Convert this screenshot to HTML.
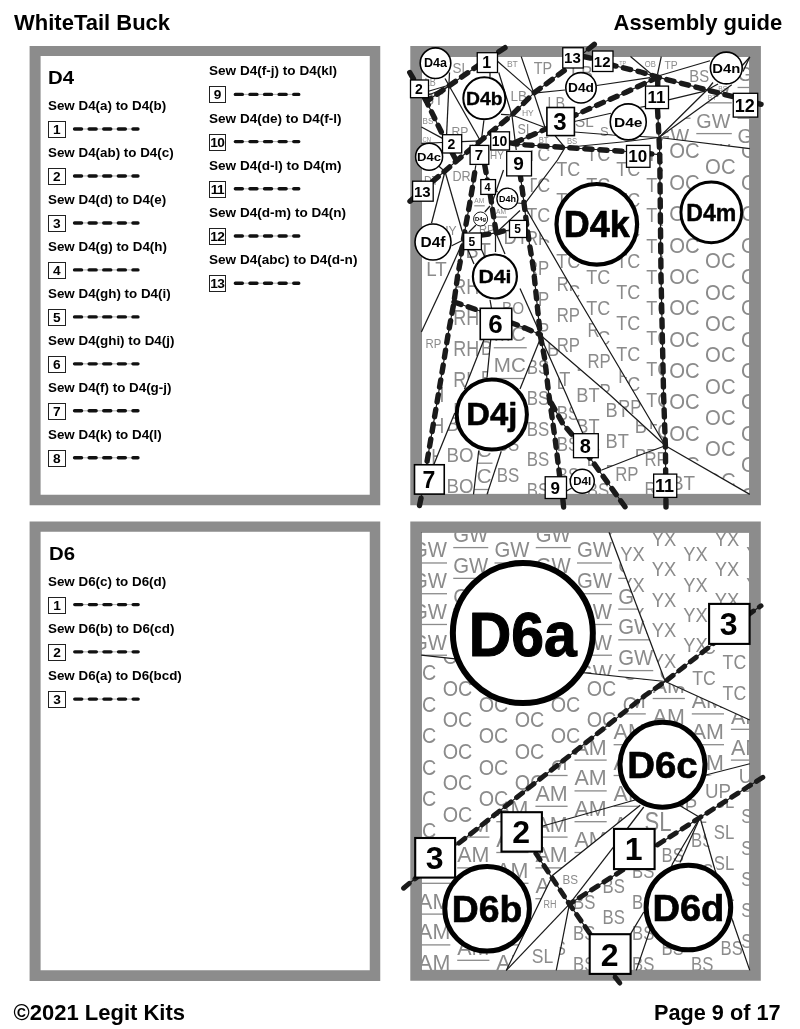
<!DOCTYPE html>
<html><head><meta charset="utf-8"><title>WhiteTail Buck - Assembly guide</title>
<style>
html,body{margin:0;padding:0;background:#fff;}
body{width:800px;height:1029px;position:relative;overflow:hidden;will-change:transform;opacity:0.9999;font-family:"Liberation Sans",sans-serif;color:#000;}
.hd{position:absolute;font-weight:bold;font-size:22px;line-height:24px;white-space:nowrap;}
.panel{position:absolute;box-sizing:border-box;border:10.5px solid #8c8c8c;background:#fff;}
.ttl{position:absolute;font-weight:bold;font-size:18px;line-height:20px;white-space:nowrap;transform:scaleX(1.13);transform-origin:0 0;}
.sew{position:absolute;font-weight:bold;font-size:12px;line-height:14px;white-space:nowrap;transform:scaleX(1.115);transform-origin:0 0;}
.nb{position:absolute;box-sizing:border-box;width:17.4px;height:17.2px;border:1px solid #222;font-weight:bold;font-size:13.7px;line-height:15.4px;text-align:center;letter-spacing:-0.6px;text-indent:-0.8px;}
svg{position:absolute;left:0;top:0;}
svg text{font-family:"Liberation Sans",sans-serif;}
</style></head><body>

<div class="hd" style="left:14px;top:11.3px;">WhiteTail Buck</div>
<div class="hd" style="left:613.5px;top:11.3px;">Assembly guide</div>
<div class="hd" style="left:13.5px;top:1000.7px;">©2021 Legit Kits</div>
<div class="hd" style="left:654px;top:1000.7px;font-size:21.7px;">Page 9 of 17</div>
<svg width="800" height="1029" viewBox="0 0 800 1029"><path fill-rule="evenodd" fill="#8c8c8c" d="M29.6 45.9H380.25V505.25H29.6ZM40.6 56H369.75V494.75H40.6Z"/><path fill-rule="evenodd" fill="#8c8c8c" d="M410.3 46H760.9V505.25H410.3ZM421.4 56.2H749.8V494.5H421.4Z"/><path fill-rule="evenodd" fill="#8c8c8c" d="M29.6 521.5H380.25V981H29.6ZM40.6 531.8H369.75V970.3H40.6Z"/><path fill-rule="evenodd" fill="#8c8c8c" d="M410.3 521.4H760.8V980.8H410.3ZM421.2 532H749.8V970.5H421.2Z"/></svg>
<div class="ttl" style="left:48.3px;top:67.8px;">D4</div>
<div class="ttl" style="left:48.5px;top:543.9px;">D6</div>
<div class="sew" style="left:48.2px;top:98.9px;">Sew D4(a) to D4(b)</div>
<div class="nb" style="left:48.2px;top:120.9px;">1</div>
<div class="sew" style="left:48.2px;top:145.87px;">Sew D4(ab) to D4(c)</div>
<div class="nb" style="left:48.2px;top:167.87px;">2</div>
<div class="sew" style="left:48.2px;top:192.84px;">Sew D4(d) to D4(e)</div>
<div class="nb" style="left:48.2px;top:214.84px;">3</div>
<div class="sew" style="left:48.2px;top:239.81px;">Sew D4(g) to D4(h)</div>
<div class="nb" style="left:48.2px;top:261.81px;">4</div>
<div class="sew" style="left:48.2px;top:286.78px;">Sew D4(gh) to D4(i)</div>
<div class="nb" style="left:48.2px;top:308.78px;">5</div>
<div class="sew" style="left:48.2px;top:333.75px;">Sew D4(ghi) to D4(j)</div>
<div class="nb" style="left:48.2px;top:355.75px;">6</div>
<div class="sew" style="left:48.2px;top:380.72px;">Sew D4(f) to D4(g-j)</div>
<div class="nb" style="left:48.2px;top:402.72px;">7</div>
<div class="sew" style="left:48.2px;top:427.69px;">Sew D4(k) to D4(l)</div>
<div class="nb" style="left:48.2px;top:449.69px;">8</div>
<div class="sew" style="left:209px;top:64.3px;transform:scaleX(1.13);">Sew D4(f-j) to D4(kl)</div>
<div class="nb" style="left:209px;top:86.3px;">9</div>
<div class="sew" style="left:209px;top:111.5px;transform:scaleX(1.13);">Sew D4(de) to D4(f-l)</div>
<div class="nb" style="left:209px;top:133.5px;">10</div>
<div class="sew" style="left:209px;top:158.7px;transform:scaleX(1.13);">Sew D4(d-l) to D4(m)</div>
<div class="nb" style="left:209px;top:180.7px;">11</div>
<div class="sew" style="left:209px;top:205.9px;transform:scaleX(1.13);">Sew D4(d-m) to D4(n)</div>
<div class="nb" style="left:209px;top:227.9px;">12</div>
<div class="sew" style="left:209px;top:253.1px;transform:scaleX(1.13);">Sew D4(abc) to D4(d-n)</div>
<div class="nb" style="left:209px;top:275.1px;">13</div>
<div class="sew" style="left:48.4px;top:574.5px;">Sew D6(c) to D6(d)</div>
<div class="nb" style="left:48.4px;top:596.5px;">1</div>
<div class="sew" style="left:48.4px;top:621.75px;">Sew D6(b) to D6(cd)</div>
<div class="nb" style="left:48.4px;top:643.75px;">2</div>
<div class="sew" style="left:48.4px;top:669px;">Sew D6(a) to D6(bcd)</div>
<div class="nb" style="left:48.4px;top:691px;">3</div>
<svg width="800" height="1029" viewBox="0 0 800 1029"><line x1="74.55" y1="129" x2="137.55" y2="129" stroke="#999" stroke-width="0.8"/><line x1="74.55" y1="129" x2="137.95" y2="129" stroke="#111" stroke-width="3.4" stroke-linecap="round" stroke-dasharray="7 7.6"/><line x1="74.55" y1="175.97" x2="137.55" y2="175.97" stroke="#999" stroke-width="0.8"/><line x1="74.55" y1="175.97" x2="137.95" y2="175.97" stroke="#111" stroke-width="3.4" stroke-linecap="round" stroke-dasharray="7 7.6"/><line x1="74.55" y1="222.94" x2="137.55" y2="222.94" stroke="#999" stroke-width="0.8"/><line x1="74.55" y1="222.94" x2="137.95" y2="222.94" stroke="#111" stroke-width="3.4" stroke-linecap="round" stroke-dasharray="7 7.6"/><line x1="74.55" y1="269.91" x2="137.55" y2="269.91" stroke="#999" stroke-width="0.8"/><line x1="74.55" y1="269.91" x2="137.95" y2="269.91" stroke="#111" stroke-width="3.4" stroke-linecap="round" stroke-dasharray="7 7.6"/><line x1="74.55" y1="316.88" x2="137.55" y2="316.88" stroke="#999" stroke-width="0.8"/><line x1="74.55" y1="316.88" x2="137.95" y2="316.88" stroke="#111" stroke-width="3.4" stroke-linecap="round" stroke-dasharray="7 7.6"/><line x1="74.55" y1="363.85" x2="137.55" y2="363.85" stroke="#999" stroke-width="0.8"/><line x1="74.55" y1="363.85" x2="137.95" y2="363.85" stroke="#111" stroke-width="3.4" stroke-linecap="round" stroke-dasharray="7 7.6"/><line x1="74.55" y1="410.82" x2="137.55" y2="410.82" stroke="#999" stroke-width="0.8"/><line x1="74.55" y1="410.82" x2="137.95" y2="410.82" stroke="#111" stroke-width="3.4" stroke-linecap="round" stroke-dasharray="7 7.6"/><line x1="74.55" y1="457.79" x2="137.55" y2="457.79" stroke="#999" stroke-width="0.8"/><line x1="74.55" y1="457.79" x2="137.95" y2="457.79" stroke="#111" stroke-width="3.4" stroke-linecap="round" stroke-dasharray="7 7.6"/><line x1="235.35" y1="94.4" x2="298.35" y2="94.4" stroke="#999" stroke-width="0.8"/><line x1="235.35" y1="94.4" x2="298.75" y2="94.4" stroke="#111" stroke-width="3.4" stroke-linecap="round" stroke-dasharray="7 7.6"/><line x1="235.35" y1="141.6" x2="298.35" y2="141.6" stroke="#999" stroke-width="0.8"/><line x1="235.35" y1="141.6" x2="298.75" y2="141.6" stroke="#111" stroke-width="3.4" stroke-linecap="round" stroke-dasharray="7 7.6"/><line x1="235.35" y1="188.8" x2="298.35" y2="188.8" stroke="#999" stroke-width="0.8"/><line x1="235.35" y1="188.8" x2="298.75" y2="188.8" stroke="#111" stroke-width="3.4" stroke-linecap="round" stroke-dasharray="7 7.6"/><line x1="235.35" y1="236" x2="298.35" y2="236" stroke="#999" stroke-width="0.8"/><line x1="235.35" y1="236" x2="298.75" y2="236" stroke="#111" stroke-width="3.4" stroke-linecap="round" stroke-dasharray="7 7.6"/><line x1="235.35" y1="283.2" x2="298.35" y2="283.2" stroke="#999" stroke-width="0.8"/><line x1="235.35" y1="283.2" x2="298.75" y2="283.2" stroke="#111" stroke-width="3.4" stroke-linecap="round" stroke-dasharray="7 7.6"/><line x1="74.75" y1="604.6" x2="137.75" y2="604.6" stroke="#999" stroke-width="0.8"/><line x1="74.75" y1="604.6" x2="138.15" y2="604.6" stroke="#111" stroke-width="3.4" stroke-linecap="round" stroke-dasharray="7 7.6"/><line x1="74.75" y1="651.85" x2="137.75" y2="651.85" stroke="#999" stroke-width="0.8"/><line x1="74.75" y1="651.85" x2="138.15" y2="651.85" stroke="#111" stroke-width="3.4" stroke-linecap="round" stroke-dasharray="7 7.6"/><line x1="74.75" y1="699.1" x2="137.75" y2="699.1" stroke="#999" stroke-width="0.8"/><line x1="74.75" y1="699.1" x2="138.15" y2="699.1" stroke="#111" stroke-width="3.4" stroke-linecap="round" stroke-dasharray="7 7.6"/></svg>
<svg width="800" height="1029" viewBox="0 0 800 1029"><rect x="421.7" y="56.5" width="327.8" height="437.7" fill="none" stroke="#555" stroke-width="0.6"/><rect x="421.5" y="532.3" width="328" height="437.9" fill="none" stroke="#555" stroke-width="0.6"/><clipPath id="c1"><polygon points="531.5,150 565,148.5 626.5,152.5 659.6,155.2 661,275 665.4,445.75 564.25,275 524.5,205 531.5,176"/></clipPath>
<g clip-path="url(#c1)" fill="#8b8b8b" font-size="20.5">
<text x="496.3" y="176.2" textLength="24" lengthAdjust="spacingAndGlyphs">TC</text>
<text x="496.3" y="206.95" textLength="24" lengthAdjust="spacingAndGlyphs">TC</text>
<text x="496.3" y="237.7" textLength="24" lengthAdjust="spacingAndGlyphs">TC</text>
<text x="496.3" y="268.45" textLength="24" lengthAdjust="spacingAndGlyphs">TC</text>
<text x="496.3" y="299.2" textLength="24" lengthAdjust="spacingAndGlyphs">TC</text>
<text x="496.3" y="329.95" textLength="24" lengthAdjust="spacingAndGlyphs">TC</text>
<text x="496.3" y="360.7" textLength="24" lengthAdjust="spacingAndGlyphs">TC</text>
<text x="496.3" y="391.45" textLength="24" lengthAdjust="spacingAndGlyphs">TC</text>
<text x="496.3" y="422.2" textLength="24" lengthAdjust="spacingAndGlyphs">TC</text>
<text x="496.3" y="452.95" textLength="24" lengthAdjust="spacingAndGlyphs">TC</text>
<text x="556.3" y="176.2" textLength="24" lengthAdjust="spacingAndGlyphs">TC</text>
<text x="556.3" y="206.95" textLength="24" lengthAdjust="spacingAndGlyphs">TC</text>
<text x="556.3" y="237.7" textLength="24" lengthAdjust="spacingAndGlyphs">TC</text>
<text x="556.3" y="268.45" textLength="24" lengthAdjust="spacingAndGlyphs">TC</text>
<text x="556.3" y="299.2" textLength="24" lengthAdjust="spacingAndGlyphs">TC</text>
<text x="556.3" y="329.95" textLength="24" lengthAdjust="spacingAndGlyphs">TC</text>
<text x="556.3" y="360.7" textLength="24" lengthAdjust="spacingAndGlyphs">TC</text>
<text x="556.3" y="391.45" textLength="24" lengthAdjust="spacingAndGlyphs">TC</text>
<text x="556.3" y="422.2" textLength="24" lengthAdjust="spacingAndGlyphs">TC</text>
<text x="556.3" y="452.95" textLength="24" lengthAdjust="spacingAndGlyphs">TC</text>
<text x="616.3" y="176.2" textLength="24" lengthAdjust="spacingAndGlyphs">TC</text>
<text x="616.3" y="206.95" textLength="24" lengthAdjust="spacingAndGlyphs">TC</text>
<text x="616.3" y="237.7" textLength="24" lengthAdjust="spacingAndGlyphs">TC</text>
<text x="616.3" y="268.45" textLength="24" lengthAdjust="spacingAndGlyphs">TC</text>
<text x="616.3" y="299.2" textLength="24" lengthAdjust="spacingAndGlyphs">TC</text>
<text x="616.3" y="329.95" textLength="24" lengthAdjust="spacingAndGlyphs">TC</text>
<text x="616.3" y="360.7" textLength="24" lengthAdjust="spacingAndGlyphs">TC</text>
<text x="616.3" y="391.45" textLength="24" lengthAdjust="spacingAndGlyphs">TC</text>
<text x="616.3" y="422.2" textLength="24" lengthAdjust="spacingAndGlyphs">TC</text>
<text x="616.3" y="452.95" textLength="24" lengthAdjust="spacingAndGlyphs">TC</text>
<text x="526.3" y="160.82" textLength="24" lengthAdjust="spacingAndGlyphs">TC</text>
<text x="526.3" y="191.57" textLength="24" lengthAdjust="spacingAndGlyphs">TC</text>
<text x="526.3" y="222.32" textLength="24" lengthAdjust="spacingAndGlyphs">TC</text>
<text x="526.3" y="253.07" textLength="24" lengthAdjust="spacingAndGlyphs">TC</text>
<text x="526.3" y="283.82" textLength="24" lengthAdjust="spacingAndGlyphs">TC</text>
<text x="526.3" y="314.57" textLength="24" lengthAdjust="spacingAndGlyphs">TC</text>
<text x="526.3" y="345.32" textLength="24" lengthAdjust="spacingAndGlyphs">TC</text>
<text x="526.3" y="376.07" textLength="24" lengthAdjust="spacingAndGlyphs">TC</text>
<text x="526.3" y="406.82" textLength="24" lengthAdjust="spacingAndGlyphs">TC</text>
<text x="526.3" y="437.57" textLength="24" lengthAdjust="spacingAndGlyphs">TC</text>
<text x="586.3" y="160.82" textLength="24" lengthAdjust="spacingAndGlyphs">TC</text>
<text x="586.3" y="191.57" textLength="24" lengthAdjust="spacingAndGlyphs">TC</text>
<text x="586.3" y="222.32" textLength="24" lengthAdjust="spacingAndGlyphs">TC</text>
<text x="586.3" y="253.07" textLength="24" lengthAdjust="spacingAndGlyphs">TC</text>
<text x="586.3" y="283.82" textLength="24" lengthAdjust="spacingAndGlyphs">TC</text>
<text x="586.3" y="314.57" textLength="24" lengthAdjust="spacingAndGlyphs">TC</text>
<text x="586.3" y="345.32" textLength="24" lengthAdjust="spacingAndGlyphs">TC</text>
<text x="586.3" y="376.07" textLength="24" lengthAdjust="spacingAndGlyphs">TC</text>
<text x="586.3" y="406.82" textLength="24" lengthAdjust="spacingAndGlyphs">TC</text>
<text x="586.3" y="437.57" textLength="24" lengthAdjust="spacingAndGlyphs">TC</text>
<text x="646.3" y="160.82" textLength="24" lengthAdjust="spacingAndGlyphs">TC</text>
<text x="646.3" y="191.57" textLength="24" lengthAdjust="spacingAndGlyphs">TC</text>
<text x="646.3" y="222.32" textLength="24" lengthAdjust="spacingAndGlyphs">TC</text>
<text x="646.3" y="253.07" textLength="24" lengthAdjust="spacingAndGlyphs">TC</text>
<text x="646.3" y="283.82" textLength="24" lengthAdjust="spacingAndGlyphs">TC</text>
<text x="646.3" y="314.57" textLength="24" lengthAdjust="spacingAndGlyphs">TC</text>
<text x="646.3" y="345.32" textLength="24" lengthAdjust="spacingAndGlyphs">TC</text>
<text x="646.3" y="376.07" textLength="24" lengthAdjust="spacingAndGlyphs">TC</text>
<text x="646.3" y="406.82" textLength="24" lengthAdjust="spacingAndGlyphs">TC</text>
<text x="646.3" y="437.57" textLength="24" lengthAdjust="spacingAndGlyphs">TC</text>
</g>
<clipPath id="c2"><polygon points="659,137.5 749.8,149 749.8,494.4 665.4,445.75 661,275"/></clipPath>
<g clip-path="url(#c2)" fill="#8b8b8b" font-size="21.5">
<text x="669.2" y="158.45" textLength="30.5" lengthAdjust="spacingAndGlyphs">OC</text>
<text x="669.2" y="189.8" textLength="30.5" lengthAdjust="spacingAndGlyphs">OC</text>
<text x="669.2" y="221.15" textLength="30.5" lengthAdjust="spacingAndGlyphs">OC</text>
<text x="669.2" y="252.5" textLength="30.5" lengthAdjust="spacingAndGlyphs">OC</text>
<text x="669.2" y="283.85" textLength="30.5" lengthAdjust="spacingAndGlyphs">OC</text>
<text x="669.2" y="315.2" textLength="30.5" lengthAdjust="spacingAndGlyphs">OC</text>
<text x="669.2" y="346.55" textLength="30.5" lengthAdjust="spacingAndGlyphs">OC</text>
<text x="669.2" y="377.9" textLength="30.5" lengthAdjust="spacingAndGlyphs">OC</text>
<text x="669.2" y="409.25" textLength="30.5" lengthAdjust="spacingAndGlyphs">OC</text>
<text x="669.2" y="440.6" textLength="30.5" lengthAdjust="spacingAndGlyphs">OC</text>
<text x="669.2" y="471.95" textLength="30.5" lengthAdjust="spacingAndGlyphs">OC</text>
<text x="669.2" y="503.3" textLength="30.5" lengthAdjust="spacingAndGlyphs">OC</text>
<text x="740.95" y="158.45" textLength="30.5" lengthAdjust="spacingAndGlyphs">OC</text>
<text x="740.95" y="189.8" textLength="30.5" lengthAdjust="spacingAndGlyphs">OC</text>
<text x="740.95" y="221.15" textLength="30.5" lengthAdjust="spacingAndGlyphs">OC</text>
<text x="740.95" y="252.5" textLength="30.5" lengthAdjust="spacingAndGlyphs">OC</text>
<text x="740.95" y="283.85" textLength="30.5" lengthAdjust="spacingAndGlyphs">OC</text>
<text x="740.95" y="315.2" textLength="30.5" lengthAdjust="spacingAndGlyphs">OC</text>
<text x="740.95" y="346.55" textLength="30.5" lengthAdjust="spacingAndGlyphs">OC</text>
<text x="740.95" y="377.9" textLength="30.5" lengthAdjust="spacingAndGlyphs">OC</text>
<text x="740.95" y="409.25" textLength="30.5" lengthAdjust="spacingAndGlyphs">OC</text>
<text x="740.95" y="440.6" textLength="30.5" lengthAdjust="spacingAndGlyphs">OC</text>
<text x="740.95" y="471.95" textLength="30.5" lengthAdjust="spacingAndGlyphs">OC</text>
<text x="740.95" y="503.3" textLength="30.5" lengthAdjust="spacingAndGlyphs">OC</text>
<text x="633.33" y="142.78" textLength="30.5" lengthAdjust="spacingAndGlyphs">OC</text>
<text x="633.33" y="174.13" textLength="30.5" lengthAdjust="spacingAndGlyphs">OC</text>
<text x="633.33" y="205.48" textLength="30.5" lengthAdjust="spacingAndGlyphs">OC</text>
<text x="633.33" y="236.83" textLength="30.5" lengthAdjust="spacingAndGlyphs">OC</text>
<text x="633.33" y="268.18" textLength="30.5" lengthAdjust="spacingAndGlyphs">OC</text>
<text x="633.33" y="299.53" textLength="30.5" lengthAdjust="spacingAndGlyphs">OC</text>
<text x="633.33" y="330.88" textLength="30.5" lengthAdjust="spacingAndGlyphs">OC</text>
<text x="633.33" y="362.23" textLength="30.5" lengthAdjust="spacingAndGlyphs">OC</text>
<text x="633.33" y="393.58" textLength="30.5" lengthAdjust="spacingAndGlyphs">OC</text>
<text x="633.33" y="424.93" textLength="30.5" lengthAdjust="spacingAndGlyphs">OC</text>
<text x="633.33" y="456.28" textLength="30.5" lengthAdjust="spacingAndGlyphs">OC</text>
<text x="633.33" y="487.63" textLength="30.5" lengthAdjust="spacingAndGlyphs">OC</text>
<text x="705.08" y="142.78" textLength="30.5" lengthAdjust="spacingAndGlyphs">OC</text>
<text x="705.08" y="174.13" textLength="30.5" lengthAdjust="spacingAndGlyphs">OC</text>
<text x="705.08" y="205.48" textLength="30.5" lengthAdjust="spacingAndGlyphs">OC</text>
<text x="705.08" y="236.83" textLength="30.5" lengthAdjust="spacingAndGlyphs">OC</text>
<text x="705.08" y="268.18" textLength="30.5" lengthAdjust="spacingAndGlyphs">OC</text>
<text x="705.08" y="299.53" textLength="30.5" lengthAdjust="spacingAndGlyphs">OC</text>
<text x="705.08" y="330.88" textLength="30.5" lengthAdjust="spacingAndGlyphs">OC</text>
<text x="705.08" y="362.23" textLength="30.5" lengthAdjust="spacingAndGlyphs">OC</text>
<text x="705.08" y="393.58" textLength="30.5" lengthAdjust="spacingAndGlyphs">OC</text>
<text x="705.08" y="424.93" textLength="30.5" lengthAdjust="spacingAndGlyphs">OC</text>
<text x="705.08" y="456.28" textLength="30.5" lengthAdjust="spacingAndGlyphs">OC</text>
<text x="705.08" y="487.63" textLength="30.5" lengthAdjust="spacingAndGlyphs">OC</text>
</g>
<clipPath id="c3"><polygon points="659,137.5 731.75,84.75 741,72 749.8,57 749.8,149"/></clipPath>
<g clip-path="url(#c3)" fill="#8b8b8b" font-size="21">
<text x="696.3" y="66.1" textLength="34" lengthAdjust="spacingAndGlyphs">GW</text>
<rect x="696.3" y="71.45" width="35.5" height="1.3"/>
<text x="696.3" y="96.85" textLength="34" lengthAdjust="spacingAndGlyphs">GW</text>
<rect x="696.3" y="102.2" width="35.5" height="1.3"/>
<text x="696.3" y="127.6" textLength="34" lengthAdjust="spacingAndGlyphs">GW</text>
<rect x="696.3" y="132.95" width="35.5" height="1.3"/>
<text x="696.3" y="158.35" textLength="34" lengthAdjust="spacingAndGlyphs">GW</text>
<rect x="696.3" y="163.7" width="35.5" height="1.3"/>
<text x="655.05" y="81.47" textLength="34" lengthAdjust="spacingAndGlyphs">GW</text>
<rect x="655.05" y="86.82" width="35.5" height="1.3"/>
<text x="655.05" y="112.22" textLength="34" lengthAdjust="spacingAndGlyphs">GW</text>
<rect x="655.05" y="117.57" width="35.5" height="1.3"/>
<text x="655.05" y="142.97" textLength="34" lengthAdjust="spacingAndGlyphs">GW</text>
<rect x="655.05" y="148.32" width="35.5" height="1.3"/>
<text x="737.55" y="81.47" textLength="34" lengthAdjust="spacingAndGlyphs">GW</text>
<rect x="737.55" y="86.82" width="35.5" height="1.3"/>
<text x="737.55" y="112.22" textLength="34" lengthAdjust="spacingAndGlyphs">GW</text>
<rect x="737.55" y="117.57" width="35.5" height="1.3"/>
<text x="737.55" y="142.97" textLength="34" lengthAdjust="spacingAndGlyphs">GW</text>
<rect x="737.55" y="148.32" width="35.5" height="1.3"/>
</g>
<clipPath id="c4"><polygon points="524.5,205 564.25,275 635.5,395 665.4,445.75 610,395 540.25,335 533.5,269 529,243.5"/></clipPath>
<g clip-path="url(#c4)" fill="#8b8b8b" font-size="21">
<text x="495.25" y="229.35" textLength="23.3" lengthAdjust="spacingAndGlyphs">RP</text>
<text x="495.25" y="260.1" textLength="23.3" lengthAdjust="spacingAndGlyphs">RP</text>
<text x="495.25" y="290.85" textLength="23.3" lengthAdjust="spacingAndGlyphs">RP</text>
<text x="495.25" y="321.6" textLength="23.3" lengthAdjust="spacingAndGlyphs">RP</text>
<text x="495.25" y="352.35" textLength="23.3" lengthAdjust="spacingAndGlyphs">RP</text>
<text x="495.25" y="383.1" textLength="23.3" lengthAdjust="spacingAndGlyphs">RP</text>
<text x="495.25" y="413.85" textLength="23.3" lengthAdjust="spacingAndGlyphs">RP</text>
<text x="495.25" y="444.6" textLength="23.3" lengthAdjust="spacingAndGlyphs">RP</text>
<text x="556.75" y="229.35" textLength="23.3" lengthAdjust="spacingAndGlyphs">RP</text>
<text x="556.75" y="260.1" textLength="23.3" lengthAdjust="spacingAndGlyphs">RP</text>
<text x="556.75" y="290.85" textLength="23.3" lengthAdjust="spacingAndGlyphs">RP</text>
<text x="556.75" y="321.6" textLength="23.3" lengthAdjust="spacingAndGlyphs">RP</text>
<text x="556.75" y="352.35" textLength="23.3" lengthAdjust="spacingAndGlyphs">RP</text>
<text x="556.75" y="383.1" textLength="23.3" lengthAdjust="spacingAndGlyphs">RP</text>
<text x="556.75" y="413.85" textLength="23.3" lengthAdjust="spacingAndGlyphs">RP</text>
<text x="556.75" y="444.6" textLength="23.3" lengthAdjust="spacingAndGlyphs">RP</text>
<text x="618.25" y="229.35" textLength="23.3" lengthAdjust="spacingAndGlyphs">RP</text>
<text x="618.25" y="260.1" textLength="23.3" lengthAdjust="spacingAndGlyphs">RP</text>
<text x="618.25" y="290.85" textLength="23.3" lengthAdjust="spacingAndGlyphs">RP</text>
<text x="618.25" y="321.6" textLength="23.3" lengthAdjust="spacingAndGlyphs">RP</text>
<text x="618.25" y="352.35" textLength="23.3" lengthAdjust="spacingAndGlyphs">RP</text>
<text x="618.25" y="383.1" textLength="23.3" lengthAdjust="spacingAndGlyphs">RP</text>
<text x="618.25" y="413.85" textLength="23.3" lengthAdjust="spacingAndGlyphs">RP</text>
<text x="618.25" y="444.6" textLength="23.3" lengthAdjust="spacingAndGlyphs">RP</text>
<text x="526" y="213.98" textLength="23.3" lengthAdjust="spacingAndGlyphs">RP</text>
<text x="526" y="244.73" textLength="23.3" lengthAdjust="spacingAndGlyphs">RP</text>
<text x="526" y="275.48" textLength="23.3" lengthAdjust="spacingAndGlyphs">RP</text>
<text x="526" y="306.23" textLength="23.3" lengthAdjust="spacingAndGlyphs">RP</text>
<text x="526" y="336.98" textLength="23.3" lengthAdjust="spacingAndGlyphs">RP</text>
<text x="526" y="367.73" textLength="23.3" lengthAdjust="spacingAndGlyphs">RP</text>
<text x="526" y="398.48" textLength="23.3" lengthAdjust="spacingAndGlyphs">RP</text>
<text x="526" y="429.23" textLength="23.3" lengthAdjust="spacingAndGlyphs">RP</text>
<text x="526" y="459.98" textLength="23.3" lengthAdjust="spacingAndGlyphs">RP</text>
<text x="587.5" y="213.98" textLength="23.3" lengthAdjust="spacingAndGlyphs">RP</text>
<text x="587.5" y="244.73" textLength="23.3" lengthAdjust="spacingAndGlyphs">RP</text>
<text x="587.5" y="275.48" textLength="23.3" lengthAdjust="spacingAndGlyphs">RP</text>
<text x="587.5" y="306.23" textLength="23.3" lengthAdjust="spacingAndGlyphs">RP</text>
<text x="587.5" y="336.98" textLength="23.3" lengthAdjust="spacingAndGlyphs">RP</text>
<text x="587.5" y="367.73" textLength="23.3" lengthAdjust="spacingAndGlyphs">RP</text>
<text x="587.5" y="398.48" textLength="23.3" lengthAdjust="spacingAndGlyphs">RP</text>
<text x="587.5" y="429.23" textLength="23.3" lengthAdjust="spacingAndGlyphs">RP</text>
<text x="587.5" y="459.98" textLength="23.3" lengthAdjust="spacingAndGlyphs">RP</text>
<text x="649" y="213.98" textLength="23.3" lengthAdjust="spacingAndGlyphs">RP</text>
<text x="649" y="244.73" textLength="23.3" lengthAdjust="spacingAndGlyphs">RP</text>
<text x="649" y="275.48" textLength="23.3" lengthAdjust="spacingAndGlyphs">RP</text>
<text x="649" y="306.23" textLength="23.3" lengthAdjust="spacingAndGlyphs">RP</text>
<text x="649" y="336.98" textLength="23.3" lengthAdjust="spacingAndGlyphs">RP</text>
<text x="649" y="367.73" textLength="23.3" lengthAdjust="spacingAndGlyphs">RP</text>
<text x="649" y="398.48" textLength="23.3" lengthAdjust="spacingAndGlyphs">RP</text>
<text x="649" y="429.23" textLength="23.3" lengthAdjust="spacingAndGlyphs">RP</text>
<text x="649" y="459.98" textLength="23.3" lengthAdjust="spacingAndGlyphs">RP</text>
</g>
<clipPath id="c5"><polygon points="542.5,341 540.25,335 665.4,445.75 601.75,470 598.3,457.7 583,433.7 566.5,395"/></clipPath>
<g clip-path="url(#c5)" fill="#8b8b8b" font-size="20.5">
<text x="517.75" y="340.35" textLength="23.3" lengthAdjust="spacingAndGlyphs">BT</text>
<text x="517.75" y="371.1" textLength="23.3" lengthAdjust="spacingAndGlyphs">BT</text>
<text x="517.75" y="401.85" textLength="23.3" lengthAdjust="spacingAndGlyphs">BT</text>
<text x="517.75" y="432.6" textLength="23.3" lengthAdjust="spacingAndGlyphs">BT</text>
<text x="517.75" y="463.35" textLength="23.3" lengthAdjust="spacingAndGlyphs">BT</text>
<text x="576.25" y="340.35" textLength="23.3" lengthAdjust="spacingAndGlyphs">BT</text>
<text x="576.25" y="371.1" textLength="23.3" lengthAdjust="spacingAndGlyphs">BT</text>
<text x="576.25" y="401.85" textLength="23.3" lengthAdjust="spacingAndGlyphs">BT</text>
<text x="576.25" y="432.6" textLength="23.3" lengthAdjust="spacingAndGlyphs">BT</text>
<text x="576.25" y="463.35" textLength="23.3" lengthAdjust="spacingAndGlyphs">BT</text>
<text x="634.75" y="340.35" textLength="23.3" lengthAdjust="spacingAndGlyphs">BT</text>
<text x="634.75" y="371.1" textLength="23.3" lengthAdjust="spacingAndGlyphs">BT</text>
<text x="634.75" y="401.85" textLength="23.3" lengthAdjust="spacingAndGlyphs">BT</text>
<text x="634.75" y="432.6" textLength="23.3" lengthAdjust="spacingAndGlyphs">BT</text>
<text x="634.75" y="463.35" textLength="23.3" lengthAdjust="spacingAndGlyphs">BT</text>
<text x="547" y="355.73" textLength="23.3" lengthAdjust="spacingAndGlyphs">BT</text>
<text x="547" y="386.48" textLength="23.3" lengthAdjust="spacingAndGlyphs">BT</text>
<text x="547" y="417.23" textLength="23.3" lengthAdjust="spacingAndGlyphs">BT</text>
<text x="547" y="447.98" textLength="23.3" lengthAdjust="spacingAndGlyphs">BT</text>
<text x="547" y="478.73" textLength="23.3" lengthAdjust="spacingAndGlyphs">BT</text>
<text x="605.5" y="355.73" textLength="23.3" lengthAdjust="spacingAndGlyphs">BT</text>
<text x="605.5" y="386.48" textLength="23.3" lengthAdjust="spacingAndGlyphs">BT</text>
<text x="605.5" y="417.23" textLength="23.3" lengthAdjust="spacingAndGlyphs">BT</text>
<text x="605.5" y="447.98" textLength="23.3" lengthAdjust="spacingAndGlyphs">BT</text>
<text x="605.5" y="478.73" textLength="23.3" lengthAdjust="spacingAndGlyphs">BT</text>
<text x="664" y="355.73" textLength="23.3" lengthAdjust="spacingAndGlyphs">BT</text>
<text x="664" y="386.48" textLength="23.3" lengthAdjust="spacingAndGlyphs">BT</text>
<text x="664" y="417.23" textLength="23.3" lengthAdjust="spacingAndGlyphs">BT</text>
<text x="664" y="447.98" textLength="23.3" lengthAdjust="spacingAndGlyphs">BT</text>
<text x="664" y="478.73" textLength="23.3" lengthAdjust="spacingAndGlyphs">BT</text>
</g>
<clipPath id="c6"><polygon points="540,339.5 566.5,395 583,433.7 590.5,458.75 616,494.4 487,494.4 501.25,451.25 520,389"/></clipPath>
<g clip-path="url(#c6)" fill="#8b8b8b" font-size="21">
<text x="466.75" y="343.35" textLength="22.5" lengthAdjust="spacingAndGlyphs">BS</text>
<text x="466.75" y="374.1" textLength="22.5" lengthAdjust="spacingAndGlyphs">BS</text>
<text x="466.75" y="404.85" textLength="22.5" lengthAdjust="spacingAndGlyphs">BS</text>
<text x="466.75" y="435.6" textLength="22.5" lengthAdjust="spacingAndGlyphs">BS</text>
<text x="466.75" y="466.35" textLength="22.5" lengthAdjust="spacingAndGlyphs">BS</text>
<text x="466.75" y="497.1" textLength="22.5" lengthAdjust="spacingAndGlyphs">BS</text>
<text x="526.75" y="343.35" textLength="22.5" lengthAdjust="spacingAndGlyphs">BS</text>
<text x="526.75" y="374.1" textLength="22.5" lengthAdjust="spacingAndGlyphs">BS</text>
<text x="526.75" y="404.85" textLength="22.5" lengthAdjust="spacingAndGlyphs">BS</text>
<text x="526.75" y="435.6" textLength="22.5" lengthAdjust="spacingAndGlyphs">BS</text>
<text x="526.75" y="466.35" textLength="22.5" lengthAdjust="spacingAndGlyphs">BS</text>
<text x="526.75" y="497.1" textLength="22.5" lengthAdjust="spacingAndGlyphs">BS</text>
<text x="586.75" y="343.35" textLength="22.5" lengthAdjust="spacingAndGlyphs">BS</text>
<text x="586.75" y="374.1" textLength="22.5" lengthAdjust="spacingAndGlyphs">BS</text>
<text x="586.75" y="404.85" textLength="22.5" lengthAdjust="spacingAndGlyphs">BS</text>
<text x="586.75" y="435.6" textLength="22.5" lengthAdjust="spacingAndGlyphs">BS</text>
<text x="586.75" y="466.35" textLength="22.5" lengthAdjust="spacingAndGlyphs">BS</text>
<text x="586.75" y="497.1" textLength="22.5" lengthAdjust="spacingAndGlyphs">BS</text>
<text x="496.75" y="358.73" textLength="22.5" lengthAdjust="spacingAndGlyphs">BS</text>
<text x="496.75" y="389.48" textLength="22.5" lengthAdjust="spacingAndGlyphs">BS</text>
<text x="496.75" y="420.23" textLength="22.5" lengthAdjust="spacingAndGlyphs">BS</text>
<text x="496.75" y="450.98" textLength="22.5" lengthAdjust="spacingAndGlyphs">BS</text>
<text x="496.75" y="481.73" textLength="22.5" lengthAdjust="spacingAndGlyphs">BS</text>
<text x="496.75" y="512.48" textLength="22.5" lengthAdjust="spacingAndGlyphs">BS</text>
<text x="556.75" y="358.73" textLength="22.5" lengthAdjust="spacingAndGlyphs">BS</text>
<text x="556.75" y="389.48" textLength="22.5" lengthAdjust="spacingAndGlyphs">BS</text>
<text x="556.75" y="420.23" textLength="22.5" lengthAdjust="spacingAndGlyphs">BS</text>
<text x="556.75" y="450.98" textLength="22.5" lengthAdjust="spacingAndGlyphs">BS</text>
<text x="556.75" y="481.73" textLength="22.5" lengthAdjust="spacingAndGlyphs">BS</text>
<text x="556.75" y="512.48" textLength="22.5" lengthAdjust="spacingAndGlyphs">BS</text>
<text x="616.75" y="358.73" textLength="22.5" lengthAdjust="spacingAndGlyphs">BS</text>
<text x="616.75" y="389.48" textLength="22.5" lengthAdjust="spacingAndGlyphs">BS</text>
<text x="616.75" y="420.23" textLength="22.5" lengthAdjust="spacingAndGlyphs">BS</text>
<text x="616.75" y="450.98" textLength="22.5" lengthAdjust="spacingAndGlyphs">BS</text>
<text x="616.75" y="481.73" textLength="22.5" lengthAdjust="spacingAndGlyphs">BS</text>
<text x="616.75" y="512.48" textLength="22.5" lengthAdjust="spacingAndGlyphs">BS</text>
</g>
<clipPath id="c7"><polygon points="601.75,470 665.4,445.75 666,494.4 616,494.4 596,462"/></clipPath>
<g clip-path="url(#c7)" fill="#8b8b8b" font-size="21">
<text x="615.25" y="451.4" textLength="23.3" lengthAdjust="spacingAndGlyphs">RP</text>
<text x="615.25" y="481.4" textLength="23.3" lengthAdjust="spacingAndGlyphs">RP</text>
<text x="615.25" y="511.4" textLength="23.3" lengthAdjust="spacingAndGlyphs">RP</text>
<text x="586" y="466.4" textLength="23.3" lengthAdjust="spacingAndGlyphs">RP</text>
<text x="586" y="496.4" textLength="23.3" lengthAdjust="spacingAndGlyphs">RP</text>
<text x="644.5" y="466.4" textLength="23.3" lengthAdjust="spacingAndGlyphs">RP</text>
<text x="644.5" y="496.4" textLength="23.3" lengthAdjust="spacingAndGlyphs">RP</text>
</g>
<clipPath id="c8"><polygon points="457.75,275 473,275 482,300 484,339.5 464.5,389 454.75,413 433.75,464.75 427,461.75 438.25,395 448,335 454,302"/></clipPath>
<g clip-path="url(#c8)" fill="#8b8b8b" font-size="22">
<text x="453.25" y="293.6" textLength="26" lengthAdjust="spacingAndGlyphs">RH</text>
<text x="453.25" y="324.6" textLength="26" lengthAdjust="spacingAndGlyphs">RH</text>
<text x="453.25" y="355.6" textLength="26" lengthAdjust="spacingAndGlyphs">RH</text>
<text x="453.25" y="386.6" textLength="26" lengthAdjust="spacingAndGlyphs">RH</text>
<text x="453.25" y="417.6" textLength="26" lengthAdjust="spacingAndGlyphs">RH</text>
<text x="453.25" y="448.6" textLength="26" lengthAdjust="spacingAndGlyphs">RH</text>
<text x="453.25" y="479.6" textLength="26" lengthAdjust="spacingAndGlyphs">RH</text>
<text x="418.25" y="278.1" textLength="26" lengthAdjust="spacingAndGlyphs">RH</text>
<text x="418.25" y="309.1" textLength="26" lengthAdjust="spacingAndGlyphs">RH</text>
<text x="418.25" y="340.1" textLength="26" lengthAdjust="spacingAndGlyphs">RH</text>
<text x="418.25" y="371.1" textLength="26" lengthAdjust="spacingAndGlyphs">RH</text>
<text x="418.25" y="402.1" textLength="26" lengthAdjust="spacingAndGlyphs">RH</text>
<text x="418.25" y="433.1" textLength="26" lengthAdjust="spacingAndGlyphs">RH</text>
<text x="418.25" y="464.1" textLength="26" lengthAdjust="spacingAndGlyphs">RH</text>
</g>
<clipPath id="c9"><polygon points="433.75,464.75 454.75,413 478.75,450.5 473.5,494.4 421.4,494.4 421.4,464"/></clipPath>
<g clip-path="url(#c9)" fill="#8b8b8b" font-size="20">
<text x="446.5" y="431.05" textLength="27" lengthAdjust="spacingAndGlyphs">BO</text>
<text x="446.5" y="461.8" textLength="27" lengthAdjust="spacingAndGlyphs">BO</text>
<text x="446.5" y="492.55" textLength="27" lengthAdjust="spacingAndGlyphs">BO</text>
</g>
<clipPath id="c10"><polygon points="484,339.5 490.75,339.5 487,377.75 476,380 464.5,389"/></clipPath>
<g clip-path="url(#c10)" fill="#8b8b8b" font-size="21">
<text x="481" y="355.2" textLength="22.5" lengthAdjust="spacingAndGlyphs">BS</text>
<text x="481" y="385.2" textLength="22.5" lengthAdjust="spacingAndGlyphs">BS</text>
</g>
<clipPath id="c11"><polygon points="490.75,339.5 511.75,339.5 511.75,323 540.25,334.5 520,389 487,389"/></clipPath>
<g clip-path="url(#c11)" fill="#8b8b8b" font-size="21">
<text x="493.75" y="341.05" textLength="32" lengthAdjust="spacingAndGlyphs">MC</text>
<rect x="493.75" y="347.1" width="33" height="1.3"/>
<text x="493.75" y="371.8" textLength="32" lengthAdjust="spacingAndGlyphs">MC</text>
<rect x="493.75" y="377.85" width="33" height="1.3"/>
<text x="493.75" y="402.55" textLength="32" lengthAdjust="spacingAndGlyphs">MC</text>
<rect x="493.75" y="408.6" width="33" height="1.3"/>
</g>
<clipPath id="c12"><polygon points="478.75,450.5 501.25,451.25 487,494.4 473.5,494.4"/></clipPath>
<g clip-path="url(#c12)" fill="#8b8b8b" font-size="21">
<text x="459.5" y="456.5" textLength="32" lengthAdjust="spacingAndGlyphs">MC</text>
<rect x="459.5" y="462.55" width="33" height="1.3"/>
<text x="459.5" y="482.8" textLength="32" lengthAdjust="spacingAndGlyphs">MC</text>
<rect x="459.5" y="488.85" width="33" height="1.3"/>
<text x="459.5" y="509.1" textLength="32" lengthAdjust="spacingAndGlyphs">MC</text>
<rect x="459.5" y="515.15" width="33" height="1.3"/>
</g>
<text x="452.5" y="72.5" font-size="15" fill="#8b8b8b" textLength="16.51" lengthAdjust="spacingAndGlyphs">SL</text>
<text x="424" y="104.75" font-size="17" fill="#8b8b8b" textLength="19.55" lengthAdjust="spacingAndGlyphs">BT</text>
<text x="422.5" y="124.3" font-size="9" fill="#8b8b8b" textLength="10.81" lengthAdjust="spacingAndGlyphs">BS</text>
<text x="422.5" y="141.5" font-size="6.5" fill="#8b8b8b" textLength="8.45" lengthAdjust="spacingAndGlyphs">CN</text>
<text x="424.8" y="86.3" font-size="10" fill="#8b8b8b" textLength="11.01" lengthAdjust="spacingAndGlyphs">LB</text>
<text x="506.9" y="66.9" font-size="9.5" fill="#8b8b8b" textLength="10.93" lengthAdjust="spacingAndGlyphs">BT</text>
<text x="533.75" y="74.4" font-size="16" fill="#8b8b8b" textLength="18.4" lengthAdjust="spacingAndGlyphs">TP</text>
<text x="510.6" y="101.25" font-size="15" fill="#8b8b8b" textLength="16.51" lengthAdjust="spacingAndGlyphs">LB</text>
<text x="521.9" y="115.6" font-size="9.5" fill="#8b8b8b" textLength="11.88" lengthAdjust="spacingAndGlyphs">HY</text>
<text x="517.5" y="134.4" font-size="14" fill="#8b8b8b" textLength="15.41" lengthAdjust="spacingAndGlyphs">SL</text>
<text x="538.75" y="143" font-size="8.5" fill="#8b8b8b" textLength="9.78" lengthAdjust="spacingAndGlyphs">BT</text>
<text x="566.9" y="143.75" font-size="8.5" fill="#8b8b8b" textLength="10.21" lengthAdjust="spacingAndGlyphs">BS</text>
<text x="547.5" y="109" font-size="16" fill="#8b8b8b" textLength="17.61" lengthAdjust="spacingAndGlyphs">LB</text>
<text x="490" y="158.75" font-size="11" fill="#8b8b8b" textLength="13.75" lengthAdjust="spacingAndGlyphs">HY</text>
<text x="571" y="80" font-size="20" fill="#8b8b8b" textLength="22.01" lengthAdjust="spacingAndGlyphs">LB</text>
<text x="619.25" y="64.5" font-size="6" fill="#8b8b8b" textLength="6.9" lengthAdjust="spacingAndGlyphs">TP</text>
<text x="644.75" y="66.75" font-size="8.5" fill="#8b8b8b" textLength="11.05" lengthAdjust="spacingAndGlyphs">OB</text>
<text x="664.5" y="69" font-size="11.5" fill="#8b8b8b" textLength="13.23" lengthAdjust="spacingAndGlyphs">TP</text>
<text x="689.3" y="81.75" font-size="16.5" fill="#8b8b8b" textLength="19.81" lengthAdjust="spacingAndGlyphs">BS</text>
<text x="718.25" y="90.75" font-size="7.5" fill="#8b8b8b" textLength="9" lengthAdjust="spacingAndGlyphs">BS</text>
<text x="707.75" y="99.75" font-size="7.5" fill="#8b8b8b" textLength="8.63" lengthAdjust="spacingAndGlyphs">BT</text>
<text x="452.5" y="180.5" font-size="14" fill="#8b8b8b" textLength="18.19" lengthAdjust="spacingAndGlyphs">DR</text>
<text x="424" y="185" font-size="12" fill="#8b8b8b" textLength="14.4" lengthAdjust="spacingAndGlyphs">DT</text>
<text x="439.8" y="234.5" font-size="13.5" fill="#8b8b8b" textLength="16.88" lengthAdjust="spacingAndGlyphs">HY</text>
<text x="479" y="233.5" font-size="12.5" fill="#8b8b8b" textLength="15.63" lengthAdjust="spacingAndGlyphs">RP</text>
<text x="503.5" y="243.5" font-size="20.5" fill="#8b8b8b" textLength="24.59" lengthAdjust="spacingAndGlyphs">DT</text>
<text x="426.25" y="275.5" font-size="19.5" fill="#8b8b8b" textLength="20.48" lengthAdjust="spacingAndGlyphs">LT</text>
<text x="465.5" y="257.5" font-size="22" fill="#8b8b8b" textLength="25.3" lengthAdjust="spacingAndGlyphs">BT</text>
<text x="425.5" y="347.75" font-size="13.5" fill="#8b8b8b" textLength="15.8" lengthAdjust="spacingAndGlyphs">RP</text>
<text x="502" y="314" font-size="17" fill="#8b8b8b" textLength="22.11" lengthAdjust="spacingAndGlyphs">BO</text>
<clipPath id="c13"><polygon points="440,120 475,120 475,134.6 440,134.6"/></clipPath><text x="451.6" y="136.2" font-size="13.5" fill="#8b8b8b" clip-path="url(#c13)" textLength="16.88" lengthAdjust="spacingAndGlyphs">RP</text>
<clipPath id="c14"><polygon points="665.4,445.75 749.8,494.4 666,494.4"/></clipPath><text x="671" y="489.5" font-size="21" fill="#8b8b8b" clip-path="url(#c14)" textLength="24.15" lengthAdjust="spacingAndGlyphs">BT</text>
<clipPath id="c15"><polygon points="574.4,122 611,113.7 612.5,135 574.4,132"/></clipPath><text x="575" y="127" font-size="17" fill="#8b8b8b" clip-path="url(#c15)" textLength="18.71" lengthAdjust="spacingAndGlyphs">SL</text>
<text x="600" y="135.6" font-size="13" fill="#8b8b8b">S</text>
<text x="474.25" y="203" font-size="7.3" fill="#8b8b8b" textLength="9.86" lengthAdjust="spacingAndGlyphs">AM</text><rect x="474.25" y="205.2" width="10.5" height="1.2" fill="#8b8b8b"/>
<text x="496" y="214.25" font-size="7.3" fill="#8b8b8b" textLength="9.86" lengthAdjust="spacingAndGlyphs">AM</text><rect x="496" y="216.45" width="11" height="1.2" fill="#8b8b8b"/>
<polyline points="445,78.5 479.9,140" fill="none" stroke="#1a1a1a" stroke-width="1.25"/>
<polyline points="449.5,72.5 446.6,134.7" fill="none" stroke="#1a1a1a" stroke-width="1.25"/>
<polyline points="428.5,91.25 451,84.5" fill="none" stroke="#1a1a1a" stroke-width="1.25"/>
<polyline points="428.5,95 447,87.5" fill="none" stroke="#1a1a1a" stroke-width="1.25"/>
<polyline points="497.5,61.25 533.75,93.1" fill="none" stroke="#1a1a1a" stroke-width="1.25"/>
<polyline points="498.75,72.5 511.9,115 516.25,150" fill="none" stroke="#1a1a1a" stroke-width="1.25"/>
<polyline points="490,72.5 490,77" fill="none" stroke="#1a1a1a" stroke-width="1.25"/>
<polyline points="483.9,120.3 481.5,139.25" fill="none" stroke="#1a1a1a" stroke-width="1.25"/>
<polyline points="421.4,127 442.5,138.4" fill="none" stroke="#1a1a1a" stroke-width="1.25"/>
<polyline points="421.4,143.3 442.5,142.5" fill="none" stroke="#1a1a1a" stroke-width="1.25"/>
<polyline points="461.7,141.7 479.9,140.9" fill="none" stroke="#1a1a1a" stroke-width="1.25"/>
<polyline points="521.25,56.6 533.75,93.1 545,127.5" fill="none" stroke="#1a1a1a" stroke-width="1.25"/>
<polyline points="533.75,93.1 565,90" fill="none" stroke="#1a1a1a" stroke-width="1.25"/>
<polyline points="511.9,115 545,127.5" fill="none" stroke="#1a1a1a" stroke-width="1.25"/>
<polyline points="501,114.4 511.9,115" fill="none" stroke="#1a1a1a" stroke-width="1.25"/>
<polyline points="596.75,85.5 650,77.7" fill="none" stroke="#1a1a1a" stroke-width="1.25"/>
<polyline points="574.4,121.5 611,113.25" fill="none" stroke="#1a1a1a" stroke-width="1.25"/>
<polyline points="574.4,132 612.5,135 659,137.5 749.8,148.7" fill="none" stroke="#1a1a1a" stroke-width="1.25"/>
<polyline points="555,135.6 565,147.5 557.5,160 524.5,204" fill="none" stroke="#1a1a1a" stroke-width="1.25"/>
<polyline points="565,147.5 624.5,141.75 659,137.5" fill="none" stroke="#1a1a1a" stroke-width="1.25"/>
<polyline points="640.25,107.25 645.5,106.3" fill="none" stroke="#1a1a1a" stroke-width="1.25"/>
<polyline points="668.5,99.9 706,90.8" fill="none" stroke="#1a1a1a" stroke-width="1.25"/>
<polyline points="659,137.5 707,90 713,82.5" fill="none" stroke="#1a1a1a" stroke-width="1.25"/>
<polyline points="659,137.5 731.75,84.75" fill="none" stroke="#1a1a1a" stroke-width="1.25"/>
<polyline points="707,90 718,84" fill="none" stroke="#1a1a1a" stroke-width="1.25"/>
<polyline points="749.8,57 741,67" fill="none" stroke="#1a1a1a" stroke-width="1.25"/>
<polyline points="749.8,57 743,71.5" fill="none" stroke="#1a1a1a" stroke-width="1.25"/>
<polyline points="659,75.75 710,60.75" fill="none" stroke="#1a1a1a" stroke-width="1.25"/>
<polyline points="657.5,74.25 661.25,56.6" fill="none" stroke="#1a1a1a" stroke-width="1.25"/>
<polyline points="651.5,74.25 630.5,56.6" fill="none" stroke="#1a1a1a" stroke-width="1.25"/>
<polyline points="524.5,206 564.25,275 635.5,395 665.4,445.75" fill="none" stroke="#1a1a1a" stroke-width="1.25"/>
<polyline points="540.25,335 610,395 665.4,445.75" fill="none" stroke="#1a1a1a" stroke-width="1.25"/>
<polyline points="542.5,341 566.5,395 583,433.7" fill="none" stroke="#1a1a1a" stroke-width="1.25"/>
<polyline points="540,339.5 520,389" fill="none" stroke="#1a1a1a" stroke-width="1.25"/>
<polyline points="520,288.5 539.5,332" fill="none" stroke="#1a1a1a" stroke-width="1.25"/>
<polyline points="601.75,470 640,455 665.4,445.75" fill="none" stroke="#1a1a1a" stroke-width="1.25"/>
<polyline points="665.4,445.75 749.8,494.4" fill="none" stroke="#1a1a1a" stroke-width="1.25"/>
<polyline points="566.5,491 571.75,488" fill="none" stroke="#1a1a1a" stroke-width="1.25"/>
<polyline points="448,275 421.4,332" fill="none" stroke="#1a1a1a" stroke-width="1.25"/>
<polyline points="490,299.75 491.5,308.3" fill="none" stroke="#1a1a1a" stroke-width="1.25"/>
<polyline points="484,339.5 464.5,389" fill="none" stroke="#1a1a1a" stroke-width="1.25"/>
<polyline points="490.75,339.5 487,377.75" fill="none" stroke="#1a1a1a" stroke-width="1.25"/>
<polyline points="454.75,413 433.75,464.75" fill="none" stroke="#1a1a1a" stroke-width="1.25"/>
<polyline points="478.75,450.5 473.5,494.4" fill="none" stroke="#1a1a1a" stroke-width="1.25"/>
<polyline points="501.25,451.25 487,494.4" fill="none" stroke="#1a1a1a" stroke-width="1.25"/>
<polyline points="445,171.5 431.5,223.25" fill="none" stroke="#1a1a1a" stroke-width="1.25"/>
<polyline points="445,171.5 462.25,231.5" fill="none" stroke="#1a1a1a" stroke-width="1.25"/>
<polyline points="451.75,245.75 465.25,239" fill="none" stroke="#1a1a1a" stroke-width="1.25"/>
<polyline points="462.25,243 448,275" fill="none" stroke="#1a1a1a" stroke-width="1.25"/>
<polyline points="503.5,170 493,200" fill="none" stroke="#1a1a1a" stroke-width="1.25"/>
<polyline points="496,233 520,210.5" fill="none" stroke="#1a1a1a" stroke-width="1.25"/>
<polyline points="484.75,212 490,206" fill="none" stroke="#1a1a1a" stroke-width="1.25"/>
<polyline points="496,233 505,254" fill="none" stroke="#1a1a1a" stroke-width="1.25"/>
<polyline points="495.5,233 495.5,252" fill="none" stroke="#1a1a1a" stroke-width="1.25"/>
<polyline points="481.5,249.5 487,262" fill="none" stroke="#1a1a1a" stroke-width="1.25"/>
<polyline points="438,165.5 445,171.5" fill="none" stroke="#1a1a1a" stroke-width="1.25"/>
<polyline points="469,232 476,225" fill="none" stroke="#1a1a1a" stroke-width="1.25"/>
<polyline points="468,250 474,264" fill="none" stroke="#1a1a1a" stroke-width="1.25"/>
<polyline points="495.6,190 497.5,192" fill="none" stroke="#1a1a1a" stroke-width="1.25"/>
<polyline points="517,203 523,203.5" fill="none" stroke="#1a1a1a" stroke-width="1.25"/>
<polyline points="505,47.7 475.7,67.2 451,84.5 427,101" fill="none" stroke="#1a1a1a" stroke-width="1.2"/><polyline points="505,47.7 475.7,67.2 451,84.5 427,101" fill="none" stroke="#1a1a1a" stroke-width="5.4" stroke-linecap="round" stroke-linejoin="round" stroke-dasharray="7.4 7.6" stroke-dashoffset="0"/>
<polyline points="409.75,72.5 427,102.5 442.5,134.4" fill="none" stroke="#1a1a1a" stroke-width="1.2"/><polyline points="409.75,72.5 427,102.5 442.5,134.4" fill="none" stroke="#1a1a1a" stroke-width="5.4" stroke-linecap="round" stroke-linejoin="round" stroke-dasharray="7.4 7.6" stroke-dashoffset="0"/>
<polyline points="452.25,153 457.1,162" fill="none" stroke="#1a1a1a" stroke-width="1.2"/><polyline points="452.25,153 457.1,162" fill="none" stroke="#1a1a1a" stroke-width="5.4" stroke-linecap="round" stroke-linejoin="round" stroke-dasharray="7.4 7.6" stroke-dashoffset="0"/>
<polyline points="594.3,44.3 584,52.8" fill="none" stroke="#1a1a1a" stroke-width="1.2"/><polyline points="594.3,44.3 584,52.8" fill="none" stroke="#1a1a1a" stroke-width="5.4" stroke-linecap="round" stroke-linejoin="round" stroke-dasharray="7.4 7.6" stroke-dashoffset="0"/>
<polyline points="410,201.2 434.4,179.9 445,171 457.1,160.4 466.9,152.25 481.5,140 511.9,115 533.75,93.1 565,70" fill="none" stroke="#1a1a1a" stroke-width="1.2"/><polyline points="410,201.2 434.4,179.9 445,171 457.1,160.4 466.9,152.25 481.5,140 511.9,115 533.75,93.1 565,70" fill="none" stroke="#1a1a1a" stroke-width="5.4" stroke-linecap="round" stroke-linejoin="round" stroke-dasharray="7.4 7.6" stroke-dashoffset="0"/>
<polyline points="583.3,56.5 592.5,58.5" fill="none" stroke="#1a1a1a" stroke-width="1.2"/><polyline points="583.3,56.5 592.5,58.5" fill="none" stroke="#1a1a1a" stroke-width="5.4" stroke-linecap="round" stroke-linejoin="round" stroke-dasharray="7.4 7.6" stroke-dashoffset="0"/>
<polyline points="657.8,77.2 626,92.25 597.5,105 574.5,115.5 545,129.4 513.75,143.1" fill="none" stroke="#1a1a1a" stroke-width="1.2"/><polyline points="657.8,77.2 626,92.25 597.5,105 574.5,115.5 545,129.4 513.75,143.1" fill="none" stroke="#1a1a1a" stroke-width="5.4" stroke-linecap="round" stroke-linejoin="round" stroke-dasharray="7.4 7.6" stroke-dashoffset="0"/>
<polyline points="510,142.8 520,144.5 565,147.5 626.5,151.5 650,153.75 659.5,154.6" fill="none" stroke="#1a1a1a" stroke-width="1.2"/><polyline points="510,142.8 520,144.5 565,147.5 626.5,151.5 650,153.75 659.5,154.6" fill="none" stroke="#1a1a1a" stroke-width="5.4" stroke-linecap="round" stroke-linejoin="round" stroke-dasharray="7.4 7.6" stroke-dashoffset="0"/>
<polyline points="761,104.3 733.25,96.75 657.8,77.2 640,71.75 612.5,65.25" fill="none" stroke="#1a1a1a" stroke-width="1.2"/><polyline points="761,104.3 733.25,96.75 657.8,77.2 640,71.75 612.5,65.25" fill="none" stroke="#1a1a1a" stroke-width="5.4" stroke-linecap="round" stroke-linejoin="round" stroke-dasharray="7.4 7.6" stroke-dashoffset="0"/>
<polyline points="666,507 665.4,445.75 663.6,395 661,275 659.75,155 659,137.5 657.5,108.5 657.8,77.2" fill="none" stroke="#1a1a1a" stroke-width="1.2"/><polyline points="666,507 665.4,445.75 663.6,395 661,275 659.75,155 659,137.5 657.5,108.5 657.8,77.2" fill="none" stroke="#1a1a1a" stroke-width="5.4" stroke-linecap="round" stroke-linejoin="round" stroke-dasharray="7.4 7.6" stroke-dashoffset="0"/>
<polyline points="419.5,505.5 421.75,494.75 427,461.75 438.25,395 442.75,368 448,335 454,302 457.75,275 460,263 463,242 466.1,223.75 469.3,205.9 472.6,186.4 475.8,165.25" fill="none" stroke="#1a1a1a" stroke-width="1.2"/><polyline points="419.5,505.5 421.75,494.75 427,461.75 438.25,395 442.75,368 448,335 454,302 457.75,275 460,263 463,242 466.1,223.75 469.3,205.9 472.6,186.4 475.8,165.25" fill="none" stroke="#1a1a1a" stroke-width="5.4" stroke-linecap="round" stroke-linejoin="round" stroke-dasharray="7.4 7.6" stroke-dashoffset="0"/>
<polyline points="484.75,165.25 487.2,179 490.4,195.3 493.7,217.25 496.1,231.9" fill="none" stroke="#1a1a1a" stroke-width="1.2"/><polyline points="484.75,165.25 487.2,179 490.4,195.3 493.7,217.25 496.1,231.9" fill="none" stroke="#1a1a1a" stroke-width="5.4" stroke-linecap="round" stroke-linejoin="round" stroke-dasharray="7.4 7.6" stroke-dashoffset="0"/>
<polyline points="481.5,235.1 497.75,232.7 503.4,231 510,230" fill="none" stroke="#1a1a1a" stroke-width="1.2"/><polyline points="481.5,235.1 497.75,232.7 503.4,231 510,230" fill="none" stroke="#1a1a1a" stroke-width="5.4" stroke-linecap="round" stroke-linejoin="round" stroke-dasharray="7.4 7.6" stroke-dashoffset="0"/>
<polyline points="563.6,507 562.75,498.5 559.75,476.75 555.25,440 548.5,392 544.75,359 540.25,335 539.5,327.5 533.5,269 529.4,243.5 527,227 523.75,201 520.5,176.6" fill="none" stroke="#1a1a1a" stroke-width="1.2"/><polyline points="563.6,507 562.75,498.5 559.75,476.75 555.25,440 548.5,392 544.75,359 540.25,335 539.5,327.5 533.5,269 529.4,243.5 527,227 523.75,201 520.5,176.6" fill="none" stroke="#1a1a1a" stroke-width="5.4" stroke-linecap="round" stroke-linejoin="round" stroke-dasharray="7.4 7.6" stroke-dashoffset="0"/>
<polyline points="454,302 480.25,311 511.75,323 520,326 540.25,334.5" fill="none" stroke="#1a1a1a" stroke-width="1.2"/><polyline points="454,302 480.25,311 511.75,323 520,326 540.25,334.5" fill="none" stroke="#1a1a1a" stroke-width="5.4" stroke-linecap="round" stroke-linejoin="round" stroke-dasharray="7.4 7.6" stroke-dashoffset="0"/>
<polyline points="625,506.75 590.5,458.75 573.5,436.25 562.75,423.5 548.5,398" fill="none" stroke="#1a1a1a" stroke-width="1.2"/><polyline points="625,506.75 590.5,458.75 573.5,436.25 562.75,423.5 548.5,398" fill="none" stroke="#1a1a1a" stroke-width="5.4" stroke-linecap="round" stroke-linejoin="round" stroke-dasharray="7.4 7.6" stroke-dashoffset="0"/>
<circle cx="435.5" cy="63.2" r="15.3" fill="#fff" stroke="#000" stroke-width="1.6"/><text x="435.5" y="67.496" font-size="12" font-weight="bold" text-anchor="middle" fill="#000" textLength="23" lengthAdjust="spacingAndGlyphs">D4a</text>
<circle cx="484.3" cy="98.3" r="21" fill="#fff" stroke="#000" stroke-width="2"/><text x="484.3" y="104.744" font-size="18" font-weight="bold" text-anchor="middle" fill="#000" stroke="#000" stroke-width="0.324" stroke-linejoin="round" textLength="36.5" lengthAdjust="spacingAndGlyphs">D4b</text>
<circle cx="429.1" cy="156.7" r="13.5" fill="#fff" stroke="#000" stroke-width="1.5"/><text x="429.1" y="160.817" font-size="11.5" font-weight="bold" text-anchor="middle" fill="#000" textLength="24" lengthAdjust="spacingAndGlyphs">D4c</text>
<circle cx="581" cy="87.8" r="15.2" fill="#fff" stroke="#000" stroke-width="1.6"/><text x="581" y="92.096" font-size="12" font-weight="bold" text-anchor="middle" fill="#000" textLength="26" lengthAdjust="spacingAndGlyphs">D4d</text>
<circle cx="628.25" cy="121.9" r="18" fill="#fff" stroke="#000" stroke-width="1.6"/><text x="628.25" y="126.733" font-size="13.5" font-weight="bold" text-anchor="middle" fill="#000" textLength="28.5" lengthAdjust="spacingAndGlyphs">D4e</text>
<circle cx="726.3" cy="68" r="15.9" fill="#fff" stroke="#000" stroke-width="1.6"/><text x="726.3" y="72.833" font-size="13.5" font-weight="bold" text-anchor="middle" fill="#000" textLength="28" lengthAdjust="spacingAndGlyphs">D4n</text>
<circle cx="433" cy="242" r="18" fill="#fff" stroke="#000" stroke-width="1.6"/><text x="433" y="247.012" font-size="14" font-weight="bold" text-anchor="middle" fill="#000" textLength="25" lengthAdjust="spacingAndGlyphs">D4f</text>
<circle cx="507.4" cy="198.7" r="10.5" fill="#fff" stroke="#000" stroke-width="1.3"/><text x="507.4" y="201.743" font-size="8.5" font-weight="bold" text-anchor="middle" fill="#000" textLength="17" lengthAdjust="spacingAndGlyphs">D4h</text>
<circle cx="480.6" cy="219" r="7" fill="#fff" stroke="#000" stroke-width="0.9"/><text x="480.6" y="220.79" font-size="5" font-weight="bold" text-anchor="middle" fill="#000" textLength="11" lengthAdjust="spacingAndGlyphs">D4g</text>
<circle cx="494.9" cy="276.5" r="22" fill="#fff" stroke="#000" stroke-width="2.2"/><text x="494.9" y="283.302" font-size="19" font-weight="bold" text-anchor="middle" fill="#000" stroke="#000" stroke-width="0.342" stroke-linejoin="round" textLength="33" lengthAdjust="spacingAndGlyphs">D4i</text>
<circle cx="596.8" cy="224.3" r="40.3" fill="#fff" stroke="#000" stroke-width="4.2"/><text x="596.8" y="237.188" font-size="36" font-weight="bold" text-anchor="middle" fill="#000" stroke="#000" stroke-width="0.648" stroke-linejoin="round" textLength="66" lengthAdjust="spacingAndGlyphs">D4k</text>
<circle cx="711.3" cy="212.3" r="30.4" fill="#fff" stroke="#000" stroke-width="3"/><text x="711.3" y="221.071" font-size="24.5" font-weight="bold" text-anchor="middle" fill="#000" stroke="#000" stroke-width="0.441" stroke-linejoin="round" textLength="50" lengthAdjust="spacingAndGlyphs">D4m</text>
<circle cx="491.8" cy="414.5" r="35.1" fill="#fff" stroke="#000" stroke-width="4"/><text x="491.8" y="425.419" font-size="30.5" font-weight="bold" text-anchor="middle" fill="#000" stroke="#000" stroke-width="0.549" stroke-linejoin="round" textLength="51" lengthAdjust="spacingAndGlyphs">D4j</text>
<circle cx="582.25" cy="481.25" r="12" fill="#fff" stroke="#000" stroke-width="1.5"/><text x="582.25" y="485.009" font-size="10.5" font-weight="bold" text-anchor="middle" fill="#000" textLength="18" lengthAdjust="spacingAndGlyphs">D4l</text>
<rect x="477.25" y="52.7" width="20.25" height="19.8" fill="#fff" stroke="#000" stroke-width="1.3"/><text x="486.775" y="68.328" font-size="16" font-weight="bold" text-anchor="middle" fill="#000">1</text>
<rect x="410.5" y="80" width="18" height="17.7" fill="#fff" stroke="#000" stroke-width="1.3"/><text x="418.9" y="93.862" font-size="14" font-weight="bold" text-anchor="middle" fill="#000">2</text>
<rect x="442.5" y="134.7" width="19.2" height="18.3" fill="#fff" stroke="#000" stroke-width="1.3"/><text x="451.5" y="148.862" font-size="14" font-weight="bold" text-anchor="middle" fill="#000">2</text>
<rect x="490.7" y="131.8" width="18.8" height="18.2" fill="#fff" stroke="#000" stroke-width="1.3"/><text x="499.5" y="145.912" font-size="14" font-weight="bold" text-anchor="middle" fill="#000">10</text>
<rect x="470.1" y="145.4" width="18.7" height="19" fill="#fff" stroke="#000" stroke-width="1.3"/><text x="478.85" y="160.27" font-size="15" font-weight="bold" text-anchor="middle" fill="#000">7</text>
<rect x="562.75" y="47.75" width="20.55" height="20.25" fill="#fff" stroke="#000" stroke-width="1.3"/><text x="572.425" y="63.245" font-size="15" font-weight="bold" text-anchor="middle" fill="#000">13</text>
<rect x="592.5" y="51" width="20.5" height="20.5" fill="#fff" stroke="#000" stroke-width="1.3"/><text x="602.15" y="66.62" font-size="15" font-weight="bold" text-anchor="middle" fill="#000">12</text>
<rect x="546.9" y="107.5" width="27.5" height="28.1" fill="#fff" stroke="#000" stroke-width="1.6"/><text x="560.05" y="130.142" font-size="24" font-weight="bold" text-anchor="middle" fill="#000">3</text>
<rect x="645.5" y="86.1" width="23" height="22.5" fill="#fff" stroke="#000" stroke-width="1.3"/><text x="656.4" y="103.436" font-size="17" font-weight="bold" text-anchor="middle" fill="#000">11</text>
<rect x="733.25" y="93.3" width="24.45" height="23.8" fill="#fff" stroke="#000" stroke-width="1.3"/><text x="744.875" y="111.644" font-size="18" font-weight="bold" text-anchor="middle" fill="#000">12</text>
<rect x="626.5" y="145.4" width="23.5" height="21.9" fill="#fff" stroke="#000" stroke-width="1.3"/><text x="637.65" y="162.436" font-size="17" font-weight="bold" text-anchor="middle" fill="#000">10</text>
<rect x="506.7" y="151.4" width="24.8" height="24.5" fill="#fff" stroke="#000" stroke-width="1.3"/><text x="518.5" y="170.452" font-size="19" font-weight="bold" text-anchor="middle" fill="#000">9</text>
<rect x="412.6" y="181.2" width="20.6" height="20" fill="#fff" stroke="#000" stroke-width="1.3"/><text x="422.3" y="196.57" font-size="15" font-weight="bold" text-anchor="middle" fill="#000">13</text>
<rect x="480.8" y="179.6" width="14.7" height="14.8" fill="#fff" stroke="#000" stroke-width="1.3"/><text x="487.55" y="190.938" font-size="11" font-weight="bold" text-anchor="middle" fill="#000">4</text>
<rect x="463.7" y="233" width="17.7" height="16.6" fill="#fff" stroke="#000" stroke-width="1.3"/><text x="471.95" y="245.596" font-size="12" font-weight="bold" text-anchor="middle" fill="#000">5</text>
<rect x="509.5" y="220.4" width="17.2" height="17.1" fill="#fff" stroke="#000" stroke-width="1.3"/><text x="517.5" y="233.246" font-size="12" font-weight="bold" text-anchor="middle" fill="#000">5</text>
<rect x="480.25" y="308.3" width="31.5" height="31.2" fill="#fff" stroke="#000" stroke-width="1.6"/><text x="495.4" y="333.208" font-size="26" font-weight="bold" text-anchor="middle" fill="#000">6</text>
<rect x="414.5" y="464.75" width="29.75" height="29.35" fill="#fff" stroke="#000" stroke-width="1.6"/><text x="428.775" y="487.659" font-size="23" font-weight="bold" text-anchor="middle" fill="#000">7</text>
<rect x="573.5" y="433.7" width="24.8" height="24" fill="#fff" stroke="#000" stroke-width="1.3"/><text x="585.3" y="452.86" font-size="20" font-weight="bold" text-anchor="middle" fill="#000">8</text>
<rect x="545.2" y="476.75" width="21.3" height="21.75" fill="#fff" stroke="#000" stroke-width="1.3"/><text x="555.25" y="493.711" font-size="17" font-weight="bold" text-anchor="middle" fill="#000">9</text>
<rect x="653.65" y="474.1" width="23.1" height="23.3" fill="#fff" stroke="#000" stroke-width="1.3"/><text x="664.6" y="492.194" font-size="18" font-weight="bold" text-anchor="middle" fill="#000">11</text><clipPath id="c16"><polygon points="421.2,532.2 609,532.2 665.25,681.5 421.2,655.2"/></clipPath>
<g clip-path="url(#c16)" fill="#8b8b8b" font-size="22">
<text x="453.25" y="542" textLength="35" lengthAdjust="spacingAndGlyphs">GW</text>
<rect x="453.25" y="546.95" width="35" height="1.3"/>
<text x="453.25" y="572.75" textLength="35" lengthAdjust="spacingAndGlyphs">GW</text>
<rect x="453.25" y="577.7" width="35" height="1.3"/>
<text x="453.25" y="603.5" textLength="35" lengthAdjust="spacingAndGlyphs">GW</text>
<rect x="453.25" y="608.45" width="35" height="1.3"/>
<text x="453.25" y="634.25" textLength="35" lengthAdjust="spacingAndGlyphs">GW</text>
<rect x="453.25" y="639.2" width="35" height="1.3"/>
<text x="453.25" y="665" textLength="35" lengthAdjust="spacingAndGlyphs">GW</text>
<rect x="453.25" y="669.95" width="35" height="1.3"/>
<text x="453.25" y="695.75" textLength="35" lengthAdjust="spacingAndGlyphs">GW</text>
<rect x="453.25" y="700.7" width="35" height="1.3"/>
<text x="535.75" y="542" textLength="35" lengthAdjust="spacingAndGlyphs">GW</text>
<rect x="535.75" y="546.95" width="35" height="1.3"/>
<text x="535.75" y="572.75" textLength="35" lengthAdjust="spacingAndGlyphs">GW</text>
<rect x="535.75" y="577.7" width="35" height="1.3"/>
<text x="535.75" y="603.5" textLength="35" lengthAdjust="spacingAndGlyphs">GW</text>
<rect x="535.75" y="608.45" width="35" height="1.3"/>
<text x="535.75" y="634.25" textLength="35" lengthAdjust="spacingAndGlyphs">GW</text>
<rect x="535.75" y="639.2" width="35" height="1.3"/>
<text x="535.75" y="665" textLength="35" lengthAdjust="spacingAndGlyphs">GW</text>
<rect x="535.75" y="669.95" width="35" height="1.3"/>
<text x="535.75" y="695.75" textLength="35" lengthAdjust="spacingAndGlyphs">GW</text>
<rect x="535.75" y="700.7" width="35" height="1.3"/>
<text x="618.25" y="542" textLength="35" lengthAdjust="spacingAndGlyphs">GW</text>
<rect x="618.25" y="546.95" width="35" height="1.3"/>
<text x="618.25" y="572.75" textLength="35" lengthAdjust="spacingAndGlyphs">GW</text>
<rect x="618.25" y="577.7" width="35" height="1.3"/>
<text x="618.25" y="603.5" textLength="35" lengthAdjust="spacingAndGlyphs">GW</text>
<rect x="618.25" y="608.45" width="35" height="1.3"/>
<text x="618.25" y="634.25" textLength="35" lengthAdjust="spacingAndGlyphs">GW</text>
<rect x="618.25" y="639.2" width="35" height="1.3"/>
<text x="618.25" y="665" textLength="35" lengthAdjust="spacingAndGlyphs">GW</text>
<rect x="618.25" y="669.95" width="35" height="1.3"/>
<text x="618.25" y="695.75" textLength="35" lengthAdjust="spacingAndGlyphs">GW</text>
<rect x="618.25" y="700.7" width="35" height="1.3"/>
<text x="412" y="557.38" textLength="35" lengthAdjust="spacingAndGlyphs">GW</text>
<rect x="412" y="562.33" width="35" height="1.3"/>
<text x="412" y="588.12" textLength="35" lengthAdjust="spacingAndGlyphs">GW</text>
<rect x="412" y="593.08" width="35" height="1.3"/>
<text x="412" y="618.88" textLength="35" lengthAdjust="spacingAndGlyphs">GW</text>
<rect x="412" y="623.83" width="35" height="1.3"/>
<text x="412" y="649.62" textLength="35" lengthAdjust="spacingAndGlyphs">GW</text>
<rect x="412" y="654.58" width="35" height="1.3"/>
<text x="412" y="680.38" textLength="35" lengthAdjust="spacingAndGlyphs">GW</text>
<rect x="412" y="685.33" width="35" height="1.3"/>
<text x="494.5" y="557.38" textLength="35" lengthAdjust="spacingAndGlyphs">GW</text>
<rect x="494.5" y="562.33" width="35" height="1.3"/>
<text x="494.5" y="588.12" textLength="35" lengthAdjust="spacingAndGlyphs">GW</text>
<rect x="494.5" y="593.08" width="35" height="1.3"/>
<text x="494.5" y="618.88" textLength="35" lengthAdjust="spacingAndGlyphs">GW</text>
<rect x="494.5" y="623.83" width="35" height="1.3"/>
<text x="494.5" y="649.62" textLength="35" lengthAdjust="spacingAndGlyphs">GW</text>
<rect x="494.5" y="654.58" width="35" height="1.3"/>
<text x="494.5" y="680.38" textLength="35" lengthAdjust="spacingAndGlyphs">GW</text>
<rect x="494.5" y="685.33" width="35" height="1.3"/>
<text x="577" y="557.38" textLength="35" lengthAdjust="spacingAndGlyphs">GW</text>
<rect x="577" y="562.33" width="35" height="1.3"/>
<text x="577" y="588.12" textLength="35" lengthAdjust="spacingAndGlyphs">GW</text>
<rect x="577" y="593.08" width="35" height="1.3"/>
<text x="577" y="618.88" textLength="35" lengthAdjust="spacingAndGlyphs">GW</text>
<rect x="577" y="623.83" width="35" height="1.3"/>
<text x="577" y="649.62" textLength="35" lengthAdjust="spacingAndGlyphs">GW</text>
<rect x="577" y="654.58" width="35" height="1.3"/>
<text x="577" y="680.38" textLength="35" lengthAdjust="spacingAndGlyphs">GW</text>
<rect x="577" y="685.33" width="35" height="1.3"/>
<text x="659.5" y="557.38" textLength="35" lengthAdjust="spacingAndGlyphs">GW</text>
<rect x="659.5" y="562.33" width="35" height="1.3"/>
<text x="659.5" y="588.12" textLength="35" lengthAdjust="spacingAndGlyphs">GW</text>
<rect x="659.5" y="593.08" width="35" height="1.3"/>
<text x="659.5" y="618.88" textLength="35" lengthAdjust="spacingAndGlyphs">GW</text>
<rect x="659.5" y="623.83" width="35" height="1.3"/>
<text x="659.5" y="649.62" textLength="35" lengthAdjust="spacingAndGlyphs">GW</text>
<rect x="659.5" y="654.58" width="35" height="1.3"/>
<text x="659.5" y="680.38" textLength="35" lengthAdjust="spacingAndGlyphs">GW</text>
<rect x="659.5" y="685.33" width="35" height="1.3"/>
</g>
<clipPath id="c17"><polygon points="609,532.2 749.8,532.2 749.8,613.5 665.25,681.5"/></clipPath>
<g clip-path="url(#c17)" fill="#8b8b8b" font-size="19.5">
<text x="620.25" y="530.8" textLength="24.5" lengthAdjust="spacingAndGlyphs">YX</text>
<text x="620.25" y="561.2" textLength="24.5" lengthAdjust="spacingAndGlyphs">YX</text>
<text x="620.25" y="591.6" textLength="24.5" lengthAdjust="spacingAndGlyphs">YX</text>
<text x="620.25" y="622" textLength="24.5" lengthAdjust="spacingAndGlyphs">YX</text>
<text x="620.25" y="652.4" textLength="24.5" lengthAdjust="spacingAndGlyphs">YX</text>
<text x="620.25" y="682.8" textLength="24.5" lengthAdjust="spacingAndGlyphs">YX</text>
<text x="683.25" y="530.8" textLength="24.5" lengthAdjust="spacingAndGlyphs">YX</text>
<text x="683.25" y="561.2" textLength="24.5" lengthAdjust="spacingAndGlyphs">YX</text>
<text x="683.25" y="591.6" textLength="24.5" lengthAdjust="spacingAndGlyphs">YX</text>
<text x="683.25" y="622" textLength="24.5" lengthAdjust="spacingAndGlyphs">YX</text>
<text x="683.25" y="652.4" textLength="24.5" lengthAdjust="spacingAndGlyphs">YX</text>
<text x="683.25" y="682.8" textLength="24.5" lengthAdjust="spacingAndGlyphs">YX</text>
<text x="746.25" y="530.8" textLength="24.5" lengthAdjust="spacingAndGlyphs">YX</text>
<text x="746.25" y="561.2" textLength="24.5" lengthAdjust="spacingAndGlyphs">YX</text>
<text x="746.25" y="591.6" textLength="24.5" lengthAdjust="spacingAndGlyphs">YX</text>
<text x="746.25" y="622" textLength="24.5" lengthAdjust="spacingAndGlyphs">YX</text>
<text x="746.25" y="652.4" textLength="24.5" lengthAdjust="spacingAndGlyphs">YX</text>
<text x="746.25" y="682.8" textLength="24.5" lengthAdjust="spacingAndGlyphs">YX</text>
<text x="588.75" y="546" textLength="24.5" lengthAdjust="spacingAndGlyphs">YX</text>
<text x="588.75" y="576.4" textLength="24.5" lengthAdjust="spacingAndGlyphs">YX</text>
<text x="588.75" y="606.8" textLength="24.5" lengthAdjust="spacingAndGlyphs">YX</text>
<text x="588.75" y="637.2" textLength="24.5" lengthAdjust="spacingAndGlyphs">YX</text>
<text x="588.75" y="667.6" textLength="24.5" lengthAdjust="spacingAndGlyphs">YX</text>
<text x="588.75" y="698" textLength="24.5" lengthAdjust="spacingAndGlyphs">YX</text>
<text x="651.75" y="546" textLength="24.5" lengthAdjust="spacingAndGlyphs">YX</text>
<text x="651.75" y="576.4" textLength="24.5" lengthAdjust="spacingAndGlyphs">YX</text>
<text x="651.75" y="606.8" textLength="24.5" lengthAdjust="spacingAndGlyphs">YX</text>
<text x="651.75" y="637.2" textLength="24.5" lengthAdjust="spacingAndGlyphs">YX</text>
<text x="651.75" y="667.6" textLength="24.5" lengthAdjust="spacingAndGlyphs">YX</text>
<text x="651.75" y="698" textLength="24.5" lengthAdjust="spacingAndGlyphs">YX</text>
<text x="714.75" y="546" textLength="24.5" lengthAdjust="spacingAndGlyphs">YX</text>
<text x="714.75" y="576.4" textLength="24.5" lengthAdjust="spacingAndGlyphs">YX</text>
<text x="714.75" y="606.8" textLength="24.5" lengthAdjust="spacingAndGlyphs">YX</text>
<text x="714.75" y="637.2" textLength="24.5" lengthAdjust="spacingAndGlyphs">YX</text>
<text x="714.75" y="667.6" textLength="24.5" lengthAdjust="spacingAndGlyphs">YX</text>
<text x="714.75" y="698" textLength="24.5" lengthAdjust="spacingAndGlyphs">YX</text>
</g>
<clipPath id="c18"><polygon points="749.8,613.5 665.25,681.5 749.8,720"/></clipPath>
<g clip-path="url(#c18)" fill="#8b8b8b" font-size="20.5">
<text x="661.9" y="638" textLength="23.6" lengthAdjust="spacingAndGlyphs">TC</text>
<text x="661.9" y="669" textLength="23.6" lengthAdjust="spacingAndGlyphs">TC</text>
<text x="661.9" y="700" textLength="23.6" lengthAdjust="spacingAndGlyphs">TC</text>
<text x="661.9" y="731" textLength="23.6" lengthAdjust="spacingAndGlyphs">TC</text>
<text x="722.6" y="638" textLength="23.6" lengthAdjust="spacingAndGlyphs">TC</text>
<text x="722.6" y="669" textLength="23.6" lengthAdjust="spacingAndGlyphs">TC</text>
<text x="722.6" y="700" textLength="23.6" lengthAdjust="spacingAndGlyphs">TC</text>
<text x="722.6" y="731" textLength="23.6" lengthAdjust="spacingAndGlyphs">TC</text>
<text x="692.25" y="622.5" textLength="23.6" lengthAdjust="spacingAndGlyphs">TC</text>
<text x="692.25" y="653.5" textLength="23.6" lengthAdjust="spacingAndGlyphs">TC</text>
<text x="692.25" y="684.5" textLength="23.6" lengthAdjust="spacingAndGlyphs">TC</text>
<text x="692.25" y="715.5" textLength="23.6" lengthAdjust="spacingAndGlyphs">TC</text>
</g>
<clipPath id="c19"><polygon points="421.2,655.2 665.25,681.5 456,845.5 421.2,873"/></clipPath>
<g clip-path="url(#c19)" fill="#8b8b8b" font-size="22">
<text x="442.75" y="664.3" textLength="29.6" lengthAdjust="spacingAndGlyphs">OC</text>
<text x="442.75" y="695.8" textLength="29.6" lengthAdjust="spacingAndGlyphs">OC</text>
<text x="442.75" y="727.3" textLength="29.6" lengthAdjust="spacingAndGlyphs">OC</text>
<text x="442.75" y="758.8" textLength="29.6" lengthAdjust="spacingAndGlyphs">OC</text>
<text x="442.75" y="790.3" textLength="29.6" lengthAdjust="spacingAndGlyphs">OC</text>
<text x="442.75" y="821.8" textLength="29.6" lengthAdjust="spacingAndGlyphs">OC</text>
<text x="442.75" y="853.3" textLength="29.6" lengthAdjust="spacingAndGlyphs">OC</text>
<text x="442.75" y="884.8" textLength="29.6" lengthAdjust="spacingAndGlyphs">OC</text>
<text x="514.75" y="664.3" textLength="29.6" lengthAdjust="spacingAndGlyphs">OC</text>
<text x="514.75" y="695.8" textLength="29.6" lengthAdjust="spacingAndGlyphs">OC</text>
<text x="514.75" y="727.3" textLength="29.6" lengthAdjust="spacingAndGlyphs">OC</text>
<text x="514.75" y="758.8" textLength="29.6" lengthAdjust="spacingAndGlyphs">OC</text>
<text x="514.75" y="790.3" textLength="29.6" lengthAdjust="spacingAndGlyphs">OC</text>
<text x="514.75" y="821.8" textLength="29.6" lengthAdjust="spacingAndGlyphs">OC</text>
<text x="514.75" y="853.3" textLength="29.6" lengthAdjust="spacingAndGlyphs">OC</text>
<text x="514.75" y="884.8" textLength="29.6" lengthAdjust="spacingAndGlyphs">OC</text>
<text x="586.75" y="664.3" textLength="29.6" lengthAdjust="spacingAndGlyphs">OC</text>
<text x="586.75" y="695.8" textLength="29.6" lengthAdjust="spacingAndGlyphs">OC</text>
<text x="586.75" y="727.3" textLength="29.6" lengthAdjust="spacingAndGlyphs">OC</text>
<text x="586.75" y="758.8" textLength="29.6" lengthAdjust="spacingAndGlyphs">OC</text>
<text x="586.75" y="790.3" textLength="29.6" lengthAdjust="spacingAndGlyphs">OC</text>
<text x="586.75" y="821.8" textLength="29.6" lengthAdjust="spacingAndGlyphs">OC</text>
<text x="586.75" y="853.3" textLength="29.6" lengthAdjust="spacingAndGlyphs">OC</text>
<text x="586.75" y="884.8" textLength="29.6" lengthAdjust="spacingAndGlyphs">OC</text>
<text x="658.75" y="664.3" textLength="29.6" lengthAdjust="spacingAndGlyphs">OC</text>
<text x="658.75" y="695.8" textLength="29.6" lengthAdjust="spacingAndGlyphs">OC</text>
<text x="658.75" y="727.3" textLength="29.6" lengthAdjust="spacingAndGlyphs">OC</text>
<text x="658.75" y="758.8" textLength="29.6" lengthAdjust="spacingAndGlyphs">OC</text>
<text x="658.75" y="790.3" textLength="29.6" lengthAdjust="spacingAndGlyphs">OC</text>
<text x="658.75" y="821.8" textLength="29.6" lengthAdjust="spacingAndGlyphs">OC</text>
<text x="658.75" y="853.3" textLength="29.6" lengthAdjust="spacingAndGlyphs">OC</text>
<text x="658.75" y="884.8" textLength="29.6" lengthAdjust="spacingAndGlyphs">OC</text>
<text x="406.75" y="680.05" textLength="29.6" lengthAdjust="spacingAndGlyphs">OC</text>
<text x="406.75" y="711.55" textLength="29.6" lengthAdjust="spacingAndGlyphs">OC</text>
<text x="406.75" y="743.05" textLength="29.6" lengthAdjust="spacingAndGlyphs">OC</text>
<text x="406.75" y="774.55" textLength="29.6" lengthAdjust="spacingAndGlyphs">OC</text>
<text x="406.75" y="806.05" textLength="29.6" lengthAdjust="spacingAndGlyphs">OC</text>
<text x="406.75" y="837.55" textLength="29.6" lengthAdjust="spacingAndGlyphs">OC</text>
<text x="406.75" y="869.05" textLength="29.6" lengthAdjust="spacingAndGlyphs">OC</text>
<text x="478.75" y="680.05" textLength="29.6" lengthAdjust="spacingAndGlyphs">OC</text>
<text x="478.75" y="711.55" textLength="29.6" lengthAdjust="spacingAndGlyphs">OC</text>
<text x="478.75" y="743.05" textLength="29.6" lengthAdjust="spacingAndGlyphs">OC</text>
<text x="478.75" y="774.55" textLength="29.6" lengthAdjust="spacingAndGlyphs">OC</text>
<text x="478.75" y="806.05" textLength="29.6" lengthAdjust="spacingAndGlyphs">OC</text>
<text x="478.75" y="837.55" textLength="29.6" lengthAdjust="spacingAndGlyphs">OC</text>
<text x="478.75" y="869.05" textLength="29.6" lengthAdjust="spacingAndGlyphs">OC</text>
<text x="550.75" y="680.05" textLength="29.6" lengthAdjust="spacingAndGlyphs">OC</text>
<text x="550.75" y="711.55" textLength="29.6" lengthAdjust="spacingAndGlyphs">OC</text>
<text x="550.75" y="743.05" textLength="29.6" lengthAdjust="spacingAndGlyphs">OC</text>
<text x="550.75" y="774.55" textLength="29.6" lengthAdjust="spacingAndGlyphs">OC</text>
<text x="550.75" y="806.05" textLength="29.6" lengthAdjust="spacingAndGlyphs">OC</text>
<text x="550.75" y="837.55" textLength="29.6" lengthAdjust="spacingAndGlyphs">OC</text>
<text x="550.75" y="869.05" textLength="29.6" lengthAdjust="spacingAndGlyphs">OC</text>
<text x="622.75" y="680.05" textLength="29.6" lengthAdjust="spacingAndGlyphs">OC</text>
<text x="622.75" y="711.55" textLength="29.6" lengthAdjust="spacingAndGlyphs">OC</text>
<text x="622.75" y="743.05" textLength="29.6" lengthAdjust="spacingAndGlyphs">OC</text>
<text x="622.75" y="774.55" textLength="29.6" lengthAdjust="spacingAndGlyphs">OC</text>
<text x="622.75" y="806.05" textLength="29.6" lengthAdjust="spacingAndGlyphs">OC</text>
<text x="622.75" y="837.55" textLength="29.6" lengthAdjust="spacingAndGlyphs">OC</text>
<text x="622.75" y="869.05" textLength="29.6" lengthAdjust="spacingAndGlyphs">OC</text>
</g>
<clipPath id="c20"><polygon points="665.25,681.5 749.8,720 749.8,763.75 662,790 640.25,805.25 552.75,875.25 506.25,970.4 421.2,970.4 421.2,873 456,845.5"/></clipPath>
<g clip-path="url(#c20)" fill="#8b8b8b" font-size="21.5">
<text x="457.2" y="708.3" textLength="32.2" lengthAdjust="spacingAndGlyphs">AM</text>
<rect x="457.2" y="713.25" width="32.2" height="1.3"/>
<text x="457.2" y="739.1" textLength="32.2" lengthAdjust="spacingAndGlyphs">AM</text>
<rect x="457.2" y="744.05" width="32.2" height="1.3"/>
<text x="457.2" y="769.9" textLength="32.2" lengthAdjust="spacingAndGlyphs">AM</text>
<rect x="457.2" y="774.85" width="32.2" height="1.3"/>
<text x="457.2" y="800.7" textLength="32.2" lengthAdjust="spacingAndGlyphs">AM</text>
<rect x="457.2" y="805.65" width="32.2" height="1.3"/>
<text x="457.2" y="831.5" textLength="32.2" lengthAdjust="spacingAndGlyphs">AM</text>
<rect x="457.2" y="836.45" width="32.2" height="1.3"/>
<text x="457.2" y="862.3" textLength="32.2" lengthAdjust="spacingAndGlyphs">AM</text>
<rect x="457.2" y="867.25" width="32.2" height="1.3"/>
<text x="457.2" y="893.1" textLength="32.2" lengthAdjust="spacingAndGlyphs">AM</text>
<rect x="457.2" y="898.05" width="32.2" height="1.3"/>
<text x="457.2" y="923.9" textLength="32.2" lengthAdjust="spacingAndGlyphs">AM</text>
<rect x="457.2" y="928.85" width="32.2" height="1.3"/>
<text x="457.2" y="954.7" textLength="32.2" lengthAdjust="spacingAndGlyphs">AM</text>
<rect x="457.2" y="959.65" width="32.2" height="1.3"/>
<text x="457.2" y="985.5" textLength="32.2" lengthAdjust="spacingAndGlyphs">AM</text>
<rect x="457.2" y="990.45" width="32.2" height="1.3"/>
<text x="535.4" y="708.3" textLength="32.2" lengthAdjust="spacingAndGlyphs">AM</text>
<rect x="535.4" y="713.25" width="32.2" height="1.3"/>
<text x="535.4" y="739.1" textLength="32.2" lengthAdjust="spacingAndGlyphs">AM</text>
<rect x="535.4" y="744.05" width="32.2" height="1.3"/>
<text x="535.4" y="769.9" textLength="32.2" lengthAdjust="spacingAndGlyphs">AM</text>
<rect x="535.4" y="774.85" width="32.2" height="1.3"/>
<text x="535.4" y="800.7" textLength="32.2" lengthAdjust="spacingAndGlyphs">AM</text>
<rect x="535.4" y="805.65" width="32.2" height="1.3"/>
<text x="535.4" y="831.5" textLength="32.2" lengthAdjust="spacingAndGlyphs">AM</text>
<rect x="535.4" y="836.45" width="32.2" height="1.3"/>
<text x="535.4" y="862.3" textLength="32.2" lengthAdjust="spacingAndGlyphs">AM</text>
<rect x="535.4" y="867.25" width="32.2" height="1.3"/>
<text x="535.4" y="893.1" textLength="32.2" lengthAdjust="spacingAndGlyphs">AM</text>
<rect x="535.4" y="898.05" width="32.2" height="1.3"/>
<text x="535.4" y="923.9" textLength="32.2" lengthAdjust="spacingAndGlyphs">AM</text>
<rect x="535.4" y="928.85" width="32.2" height="1.3"/>
<text x="535.4" y="954.7" textLength="32.2" lengthAdjust="spacingAndGlyphs">AM</text>
<rect x="535.4" y="959.65" width="32.2" height="1.3"/>
<text x="535.4" y="985.5" textLength="32.2" lengthAdjust="spacingAndGlyphs">AM</text>
<rect x="535.4" y="990.45" width="32.2" height="1.3"/>
<text x="613.6" y="708.3" textLength="32.2" lengthAdjust="spacingAndGlyphs">AM</text>
<rect x="613.6" y="713.25" width="32.2" height="1.3"/>
<text x="613.6" y="739.1" textLength="32.2" lengthAdjust="spacingAndGlyphs">AM</text>
<rect x="613.6" y="744.05" width="32.2" height="1.3"/>
<text x="613.6" y="769.9" textLength="32.2" lengthAdjust="spacingAndGlyphs">AM</text>
<rect x="613.6" y="774.85" width="32.2" height="1.3"/>
<text x="613.6" y="800.7" textLength="32.2" lengthAdjust="spacingAndGlyphs">AM</text>
<rect x="613.6" y="805.65" width="32.2" height="1.3"/>
<text x="613.6" y="831.5" textLength="32.2" lengthAdjust="spacingAndGlyphs">AM</text>
<rect x="613.6" y="836.45" width="32.2" height="1.3"/>
<text x="613.6" y="862.3" textLength="32.2" lengthAdjust="spacingAndGlyphs">AM</text>
<rect x="613.6" y="867.25" width="32.2" height="1.3"/>
<text x="613.6" y="893.1" textLength="32.2" lengthAdjust="spacingAndGlyphs">AM</text>
<rect x="613.6" y="898.05" width="32.2" height="1.3"/>
<text x="613.6" y="923.9" textLength="32.2" lengthAdjust="spacingAndGlyphs">AM</text>
<rect x="613.6" y="928.85" width="32.2" height="1.3"/>
<text x="613.6" y="954.7" textLength="32.2" lengthAdjust="spacingAndGlyphs">AM</text>
<rect x="613.6" y="959.65" width="32.2" height="1.3"/>
<text x="613.6" y="985.5" textLength="32.2" lengthAdjust="spacingAndGlyphs">AM</text>
<rect x="613.6" y="990.45" width="32.2" height="1.3"/>
<text x="691.8" y="708.3" textLength="32.2" lengthAdjust="spacingAndGlyphs">AM</text>
<rect x="691.8" y="713.25" width="32.2" height="1.3"/>
<text x="691.8" y="739.1" textLength="32.2" lengthAdjust="spacingAndGlyphs">AM</text>
<rect x="691.8" y="744.05" width="32.2" height="1.3"/>
<text x="691.8" y="769.9" textLength="32.2" lengthAdjust="spacingAndGlyphs">AM</text>
<rect x="691.8" y="774.85" width="32.2" height="1.3"/>
<text x="691.8" y="800.7" textLength="32.2" lengthAdjust="spacingAndGlyphs">AM</text>
<rect x="691.8" y="805.65" width="32.2" height="1.3"/>
<text x="691.8" y="831.5" textLength="32.2" lengthAdjust="spacingAndGlyphs">AM</text>
<rect x="691.8" y="836.45" width="32.2" height="1.3"/>
<text x="691.8" y="862.3" textLength="32.2" lengthAdjust="spacingAndGlyphs">AM</text>
<rect x="691.8" y="867.25" width="32.2" height="1.3"/>
<text x="691.8" y="893.1" textLength="32.2" lengthAdjust="spacingAndGlyphs">AM</text>
<rect x="691.8" y="898.05" width="32.2" height="1.3"/>
<text x="691.8" y="923.9" textLength="32.2" lengthAdjust="spacingAndGlyphs">AM</text>
<rect x="691.8" y="928.85" width="32.2" height="1.3"/>
<text x="691.8" y="954.7" textLength="32.2" lengthAdjust="spacingAndGlyphs">AM</text>
<rect x="691.8" y="959.65" width="32.2" height="1.3"/>
<text x="691.8" y="985.5" textLength="32.2" lengthAdjust="spacingAndGlyphs">AM</text>
<rect x="691.8" y="990.45" width="32.2" height="1.3"/>
<text x="418.1" y="692.9" textLength="32.2" lengthAdjust="spacingAndGlyphs">AM</text>
<rect x="418.1" y="697.85" width="32.2" height="1.3"/>
<text x="418.1" y="723.7" textLength="32.2" lengthAdjust="spacingAndGlyphs">AM</text>
<rect x="418.1" y="728.65" width="32.2" height="1.3"/>
<text x="418.1" y="754.5" textLength="32.2" lengthAdjust="spacingAndGlyphs">AM</text>
<rect x="418.1" y="759.45" width="32.2" height="1.3"/>
<text x="418.1" y="785.3" textLength="32.2" lengthAdjust="spacingAndGlyphs">AM</text>
<rect x="418.1" y="790.25" width="32.2" height="1.3"/>
<text x="418.1" y="816.1" textLength="32.2" lengthAdjust="spacingAndGlyphs">AM</text>
<rect x="418.1" y="821.05" width="32.2" height="1.3"/>
<text x="418.1" y="846.9" textLength="32.2" lengthAdjust="spacingAndGlyphs">AM</text>
<rect x="418.1" y="851.85" width="32.2" height="1.3"/>
<text x="418.1" y="877.7" textLength="32.2" lengthAdjust="spacingAndGlyphs">AM</text>
<rect x="418.1" y="882.65" width="32.2" height="1.3"/>
<text x="418.1" y="908.5" textLength="32.2" lengthAdjust="spacingAndGlyphs">AM</text>
<rect x="418.1" y="913.45" width="32.2" height="1.3"/>
<text x="418.1" y="939.3" textLength="32.2" lengthAdjust="spacingAndGlyphs">AM</text>
<rect x="418.1" y="944.25" width="32.2" height="1.3"/>
<text x="418.1" y="970.1" textLength="32.2" lengthAdjust="spacingAndGlyphs">AM</text>
<rect x="418.1" y="975.05" width="32.2" height="1.3"/>
<text x="496.3" y="692.9" textLength="32.2" lengthAdjust="spacingAndGlyphs">AM</text>
<rect x="496.3" y="697.85" width="32.2" height="1.3"/>
<text x="496.3" y="723.7" textLength="32.2" lengthAdjust="spacingAndGlyphs">AM</text>
<rect x="496.3" y="728.65" width="32.2" height="1.3"/>
<text x="496.3" y="754.5" textLength="32.2" lengthAdjust="spacingAndGlyphs">AM</text>
<rect x="496.3" y="759.45" width="32.2" height="1.3"/>
<text x="496.3" y="785.3" textLength="32.2" lengthAdjust="spacingAndGlyphs">AM</text>
<rect x="496.3" y="790.25" width="32.2" height="1.3"/>
<text x="496.3" y="816.1" textLength="32.2" lengthAdjust="spacingAndGlyphs">AM</text>
<rect x="496.3" y="821.05" width="32.2" height="1.3"/>
<text x="496.3" y="846.9" textLength="32.2" lengthAdjust="spacingAndGlyphs">AM</text>
<rect x="496.3" y="851.85" width="32.2" height="1.3"/>
<text x="496.3" y="877.7" textLength="32.2" lengthAdjust="spacingAndGlyphs">AM</text>
<rect x="496.3" y="882.65" width="32.2" height="1.3"/>
<text x="496.3" y="908.5" textLength="32.2" lengthAdjust="spacingAndGlyphs">AM</text>
<rect x="496.3" y="913.45" width="32.2" height="1.3"/>
<text x="496.3" y="939.3" textLength="32.2" lengthAdjust="spacingAndGlyphs">AM</text>
<rect x="496.3" y="944.25" width="32.2" height="1.3"/>
<text x="496.3" y="970.1" textLength="32.2" lengthAdjust="spacingAndGlyphs">AM</text>
<rect x="496.3" y="975.05" width="32.2" height="1.3"/>
<text x="574.5" y="692.9" textLength="32.2" lengthAdjust="spacingAndGlyphs">AM</text>
<rect x="574.5" y="697.85" width="32.2" height="1.3"/>
<text x="574.5" y="723.7" textLength="32.2" lengthAdjust="spacingAndGlyphs">AM</text>
<rect x="574.5" y="728.65" width="32.2" height="1.3"/>
<text x="574.5" y="754.5" textLength="32.2" lengthAdjust="spacingAndGlyphs">AM</text>
<rect x="574.5" y="759.45" width="32.2" height="1.3"/>
<text x="574.5" y="785.3" textLength="32.2" lengthAdjust="spacingAndGlyphs">AM</text>
<rect x="574.5" y="790.25" width="32.2" height="1.3"/>
<text x="574.5" y="816.1" textLength="32.2" lengthAdjust="spacingAndGlyphs">AM</text>
<rect x="574.5" y="821.05" width="32.2" height="1.3"/>
<text x="574.5" y="846.9" textLength="32.2" lengthAdjust="spacingAndGlyphs">AM</text>
<rect x="574.5" y="851.85" width="32.2" height="1.3"/>
<text x="574.5" y="877.7" textLength="32.2" lengthAdjust="spacingAndGlyphs">AM</text>
<rect x="574.5" y="882.65" width="32.2" height="1.3"/>
<text x="574.5" y="908.5" textLength="32.2" lengthAdjust="spacingAndGlyphs">AM</text>
<rect x="574.5" y="913.45" width="32.2" height="1.3"/>
<text x="574.5" y="939.3" textLength="32.2" lengthAdjust="spacingAndGlyphs">AM</text>
<rect x="574.5" y="944.25" width="32.2" height="1.3"/>
<text x="574.5" y="970.1" textLength="32.2" lengthAdjust="spacingAndGlyphs">AM</text>
<rect x="574.5" y="975.05" width="32.2" height="1.3"/>
<text x="652.7" y="692.9" textLength="32.2" lengthAdjust="spacingAndGlyphs">AM</text>
<rect x="652.7" y="697.85" width="32.2" height="1.3"/>
<text x="652.7" y="723.7" textLength="32.2" lengthAdjust="spacingAndGlyphs">AM</text>
<rect x="652.7" y="728.65" width="32.2" height="1.3"/>
<text x="652.7" y="754.5" textLength="32.2" lengthAdjust="spacingAndGlyphs">AM</text>
<rect x="652.7" y="759.45" width="32.2" height="1.3"/>
<text x="652.7" y="785.3" textLength="32.2" lengthAdjust="spacingAndGlyphs">AM</text>
<rect x="652.7" y="790.25" width="32.2" height="1.3"/>
<text x="652.7" y="816.1" textLength="32.2" lengthAdjust="spacingAndGlyphs">AM</text>
<rect x="652.7" y="821.05" width="32.2" height="1.3"/>
<text x="652.7" y="846.9" textLength="32.2" lengthAdjust="spacingAndGlyphs">AM</text>
<rect x="652.7" y="851.85" width="32.2" height="1.3"/>
<text x="652.7" y="877.7" textLength="32.2" lengthAdjust="spacingAndGlyphs">AM</text>
<rect x="652.7" y="882.65" width="32.2" height="1.3"/>
<text x="652.7" y="908.5" textLength="32.2" lengthAdjust="spacingAndGlyphs">AM</text>
<rect x="652.7" y="913.45" width="32.2" height="1.3"/>
<text x="652.7" y="939.3" textLength="32.2" lengthAdjust="spacingAndGlyphs">AM</text>
<rect x="652.7" y="944.25" width="32.2" height="1.3"/>
<text x="652.7" y="970.1" textLength="32.2" lengthAdjust="spacingAndGlyphs">AM</text>
<rect x="652.7" y="975.05" width="32.2" height="1.3"/>
<text x="730.9" y="692.9" textLength="32.2" lengthAdjust="spacingAndGlyphs">AM</text>
<rect x="730.9" y="697.85" width="32.2" height="1.3"/>
<text x="730.9" y="723.7" textLength="32.2" lengthAdjust="spacingAndGlyphs">AM</text>
<rect x="730.9" y="728.65" width="32.2" height="1.3"/>
<text x="730.9" y="754.5" textLength="32.2" lengthAdjust="spacingAndGlyphs">AM</text>
<rect x="730.9" y="759.45" width="32.2" height="1.3"/>
<text x="730.9" y="785.3" textLength="32.2" lengthAdjust="spacingAndGlyphs">AM</text>
<rect x="730.9" y="790.25" width="32.2" height="1.3"/>
<text x="730.9" y="816.1" textLength="32.2" lengthAdjust="spacingAndGlyphs">AM</text>
<rect x="730.9" y="821.05" width="32.2" height="1.3"/>
<text x="730.9" y="846.9" textLength="32.2" lengthAdjust="spacingAndGlyphs">AM</text>
<rect x="730.9" y="851.85" width="32.2" height="1.3"/>
<text x="730.9" y="877.7" textLength="32.2" lengthAdjust="spacingAndGlyphs">AM</text>
<rect x="730.9" y="882.65" width="32.2" height="1.3"/>
<text x="730.9" y="908.5" textLength="32.2" lengthAdjust="spacingAndGlyphs">AM</text>
<rect x="730.9" y="913.45" width="32.2" height="1.3"/>
<text x="730.9" y="939.3" textLength="32.2" lengthAdjust="spacingAndGlyphs">AM</text>
<rect x="730.9" y="944.25" width="32.2" height="1.3"/>
<text x="730.9" y="970.1" textLength="32.2" lengthAdjust="spacingAndGlyphs">AM</text>
<rect x="730.9" y="975.05" width="32.2" height="1.3"/>
</g>
<clipPath id="c21"><polygon points="749.8,763.75 749.8,785.5 700,817.5 678.75,805 707.5,776.25"/></clipPath>
<g clip-path="url(#c21)" fill="#8b8b8b" font-size="20.5">
<text x="705" y="767.2" textLength="26" lengthAdjust="spacingAndGlyphs">UP</text>
<text x="705" y="797.8" textLength="26" lengthAdjust="spacingAndGlyphs">UP</text>
<text x="705" y="828.4" textLength="26" lengthAdjust="spacingAndGlyphs">UP</text>
<text x="671.25" y="782.5" textLength="26" lengthAdjust="spacingAndGlyphs">UP</text>
<text x="671.25" y="813.1" textLength="26" lengthAdjust="spacingAndGlyphs">UP</text>
<text x="738.75" y="782.5" textLength="26" lengthAdjust="spacingAndGlyphs">UP</text>
<text x="738.75" y="813.1" textLength="26" lengthAdjust="spacingAndGlyphs">UP</text>
</g>
<clipPath id="c22"><polygon points="749.8,785.5 700,817.5 749.8,970.4"/></clipPath>
<g clip-path="url(#c22)" fill="#8b8b8b" font-size="21">
<text x="713.75" y="807.65" textLength="20.5" lengthAdjust="spacingAndGlyphs">SL</text>
<text x="713.75" y="838.9" textLength="20.5" lengthAdjust="spacingAndGlyphs">SL</text>
<text x="713.75" y="870.15" textLength="20.5" lengthAdjust="spacingAndGlyphs">SL</text>
<text x="713.75" y="901.4" textLength="20.5" lengthAdjust="spacingAndGlyphs">SL</text>
<text x="713.75" y="932.65" textLength="20.5" lengthAdjust="spacingAndGlyphs">SL</text>
<text x="713.75" y="963.9" textLength="20.5" lengthAdjust="spacingAndGlyphs">SL</text>
<text x="686.25" y="792.02" textLength="20.5" lengthAdjust="spacingAndGlyphs">SL</text>
<text x="686.25" y="823.27" textLength="20.5" lengthAdjust="spacingAndGlyphs">SL</text>
<text x="686.25" y="854.52" textLength="20.5" lengthAdjust="spacingAndGlyphs">SL</text>
<text x="686.25" y="885.77" textLength="20.5" lengthAdjust="spacingAndGlyphs">SL</text>
<text x="686.25" y="917.02" textLength="20.5" lengthAdjust="spacingAndGlyphs">SL</text>
<text x="686.25" y="948.27" textLength="20.5" lengthAdjust="spacingAndGlyphs">SL</text>
<text x="686.25" y="979.52" textLength="20.5" lengthAdjust="spacingAndGlyphs">SL</text>
<text x="741.25" y="792.02" textLength="20.5" lengthAdjust="spacingAndGlyphs">SL</text>
<text x="741.25" y="823.27" textLength="20.5" lengthAdjust="spacingAndGlyphs">SL</text>
<text x="741.25" y="854.52" textLength="20.5" lengthAdjust="spacingAndGlyphs">SL</text>
<text x="741.25" y="885.77" textLength="20.5" lengthAdjust="spacingAndGlyphs">SL</text>
<text x="741.25" y="917.02" textLength="20.5" lengthAdjust="spacingAndGlyphs">SL</text>
<text x="741.25" y="948.27" textLength="20.5" lengthAdjust="spacingAndGlyphs">SL</text>
<text x="741.25" y="979.52" textLength="20.5" lengthAdjust="spacingAndGlyphs">SL</text>
</g>
<clipPath id="c23"><polygon points="700,817.5 749.8,970.4 556.25,970.4 562.4,940 569.4,904.1"/></clipPath>
<g clip-path="url(#c23)" fill="#8b8b8b" font-size="21">
<text x="543.6" y="831.2" textLength="22.3" lengthAdjust="spacingAndGlyphs">BS</text>
<text x="543.6" y="862.2" textLength="22.3" lengthAdjust="spacingAndGlyphs">BS</text>
<text x="543.6" y="893.2" textLength="22.3" lengthAdjust="spacingAndGlyphs">BS</text>
<text x="543.6" y="924.2" textLength="22.3" lengthAdjust="spacingAndGlyphs">BS</text>
<text x="543.6" y="955.2" textLength="22.3" lengthAdjust="spacingAndGlyphs">BS</text>
<text x="543.6" y="986.2" textLength="22.3" lengthAdjust="spacingAndGlyphs">BS</text>
<text x="602.6" y="831.2" textLength="22.3" lengthAdjust="spacingAndGlyphs">BS</text>
<text x="602.6" y="862.2" textLength="22.3" lengthAdjust="spacingAndGlyphs">BS</text>
<text x="602.6" y="893.2" textLength="22.3" lengthAdjust="spacingAndGlyphs">BS</text>
<text x="602.6" y="924.2" textLength="22.3" lengthAdjust="spacingAndGlyphs">BS</text>
<text x="602.6" y="955.2" textLength="22.3" lengthAdjust="spacingAndGlyphs">BS</text>
<text x="602.6" y="986.2" textLength="22.3" lengthAdjust="spacingAndGlyphs">BS</text>
<text x="661.6" y="831.2" textLength="22.3" lengthAdjust="spacingAndGlyphs">BS</text>
<text x="661.6" y="862.2" textLength="22.3" lengthAdjust="spacingAndGlyphs">BS</text>
<text x="661.6" y="893.2" textLength="22.3" lengthAdjust="spacingAndGlyphs">BS</text>
<text x="661.6" y="924.2" textLength="22.3" lengthAdjust="spacingAndGlyphs">BS</text>
<text x="661.6" y="955.2" textLength="22.3" lengthAdjust="spacingAndGlyphs">BS</text>
<text x="661.6" y="986.2" textLength="22.3" lengthAdjust="spacingAndGlyphs">BS</text>
<text x="720.6" y="831.2" textLength="22.3" lengthAdjust="spacingAndGlyphs">BS</text>
<text x="720.6" y="862.2" textLength="22.3" lengthAdjust="spacingAndGlyphs">BS</text>
<text x="720.6" y="893.2" textLength="22.3" lengthAdjust="spacingAndGlyphs">BS</text>
<text x="720.6" y="924.2" textLength="22.3" lengthAdjust="spacingAndGlyphs">BS</text>
<text x="720.6" y="955.2" textLength="22.3" lengthAdjust="spacingAndGlyphs">BS</text>
<text x="720.6" y="986.2" textLength="22.3" lengthAdjust="spacingAndGlyphs">BS</text>
<text x="573.1" y="815.7" textLength="22.3" lengthAdjust="spacingAndGlyphs">BS</text>
<text x="573.1" y="846.7" textLength="22.3" lengthAdjust="spacingAndGlyphs">BS</text>
<text x="573.1" y="877.7" textLength="22.3" lengthAdjust="spacingAndGlyphs">BS</text>
<text x="573.1" y="908.7" textLength="22.3" lengthAdjust="spacingAndGlyphs">BS</text>
<text x="573.1" y="939.7" textLength="22.3" lengthAdjust="spacingAndGlyphs">BS</text>
<text x="573.1" y="970.7" textLength="22.3" lengthAdjust="spacingAndGlyphs">BS</text>
<text x="632.1" y="815.7" textLength="22.3" lengthAdjust="spacingAndGlyphs">BS</text>
<text x="632.1" y="846.7" textLength="22.3" lengthAdjust="spacingAndGlyphs">BS</text>
<text x="632.1" y="877.7" textLength="22.3" lengthAdjust="spacingAndGlyphs">BS</text>
<text x="632.1" y="908.7" textLength="22.3" lengthAdjust="spacingAndGlyphs">BS</text>
<text x="632.1" y="939.7" textLength="22.3" lengthAdjust="spacingAndGlyphs">BS</text>
<text x="632.1" y="970.7" textLength="22.3" lengthAdjust="spacingAndGlyphs">BS</text>
<text x="691.1" y="815.7" textLength="22.3" lengthAdjust="spacingAndGlyphs">BS</text>
<text x="691.1" y="846.7" textLength="22.3" lengthAdjust="spacingAndGlyphs">BS</text>
<text x="691.1" y="877.7" textLength="22.3" lengthAdjust="spacingAndGlyphs">BS</text>
<text x="691.1" y="908.7" textLength="22.3" lengthAdjust="spacingAndGlyphs">BS</text>
<text x="691.1" y="939.7" textLength="22.3" lengthAdjust="spacingAndGlyphs">BS</text>
<text x="691.1" y="970.7" textLength="22.3" lengthAdjust="spacingAndGlyphs">BS</text>
<text x="750.1" y="815.7" textLength="22.3" lengthAdjust="spacingAndGlyphs">BS</text>
<text x="750.1" y="846.7" textLength="22.3" lengthAdjust="spacingAndGlyphs">BS</text>
<text x="750.1" y="877.7" textLength="22.3" lengthAdjust="spacingAndGlyphs">BS</text>
<text x="750.1" y="908.7" textLength="22.3" lengthAdjust="spacingAndGlyphs">BS</text>
<text x="750.1" y="939.7" textLength="22.3" lengthAdjust="spacingAndGlyphs">BS</text>
<text x="750.1" y="970.7" textLength="22.3" lengthAdjust="spacingAndGlyphs">BS</text>
</g>
<clipPath id="c24"><polygon points="640,805 679,805 700,817.5 655,847 627,829"/></clipPath><text x="644.6" y="830.6" font-size="28" fill="#8b8b8b" clip-path="url(#c24)" textLength="27" lengthAdjust="spacingAndGlyphs">SL</text>
<text x="562.4" y="884.2" font-size="13.5" fill="#8b8b8b" textLength="15.6" lengthAdjust="spacingAndGlyphs">BS</text>
<text x="543.6" y="907.8" font-size="10" fill="#8b8b8b" textLength="13" lengthAdjust="spacingAndGlyphs">RH</text>
<text x="531.75" y="962.7" font-size="19.5" fill="#8b8b8b" textLength="21.46" lengthAdjust="spacingAndGlyphs">SL</text>
<clipPath id="c25"><polygon points="562.4,940 556.25,970.4 540,970.4 540,930"/></clipPath><text x="558.5" y="956.5" font-size="14" fill="#8b8b8b" clip-path="url(#c25)">P</text>
<polyline points="421.2,655.2 665.25,681.5" fill="none" stroke="#1a1a1a" stroke-width="1.25"/>
<polyline points="609,532.2 665.25,681.5" fill="none" stroke="#1a1a1a" stroke-width="1.25"/>
<polyline points="665.25,681.5 749.8,720" fill="none" stroke="#1a1a1a" stroke-width="1.25"/>
<polyline points="700,776.5 749.8,763.75" fill="none" stroke="#1a1a1a" stroke-width="1.25"/>
<polyline points="541.9,826.25 635,800" fill="none" stroke="#1a1a1a" stroke-width="1.25"/>
<polyline points="640.25,805.25 552.75,875.25 506.25,970.4" fill="none" stroke="#1a1a1a" stroke-width="1.25"/>
<polyline points="643.75,807 627,829" fill="none" stroke="#1a1a1a" stroke-width="1.25"/>
<polyline points="614,846.4 569.4,904.1" fill="none" stroke="#1a1a1a" stroke-width="1.25"/>
<polyline points="569.4,904.1 506.25,970.4" fill="none" stroke="#1a1a1a" stroke-width="1.25"/>
<polyline points="569.4,904.1 562.4,940 556.25,970.4" fill="none" stroke="#1a1a1a" stroke-width="1.25"/>
<polyline points="630.6,933.9 643.75,912" fill="none" stroke="#1a1a1a" stroke-width="1.25"/>
<polyline points="678.75,805 700,817.5" fill="none" stroke="#1a1a1a" stroke-width="1.25"/>
<polyline points="700,817.5 715,870 749.8,970.4" fill="none" stroke="#1a1a1a" stroke-width="1.25"/>
<polyline points="700,817.5 672.5,863.75 636.25,970.4" fill="none" stroke="#1a1a1a" stroke-width="1.25"/>
<polyline points="700,817.5 680,862.5" fill="none" stroke="#1a1a1a" stroke-width="1.25"/>
<polyline points="761,605.8 750.75,612.9 712.5,644.4 665.25,681.5 645,695.5 580,747.4 456.25,845.25" fill="none" stroke="#1a1a1a" stroke-width="1.2"/><polyline points="761,605.8 750.75,612.9 712.5,644.4 665.25,681.5 645,695.5 580,747.4 456.25,845.25" fill="none" stroke="#1a1a1a" stroke-width="5" stroke-linecap="round" stroke-linejoin="round" stroke-dasharray="7.5 7.2" stroke-dashoffset="5.5"/>
<polyline points="403.5,888.2 415,878.75 420,874.7" fill="none" stroke="#1a1a1a" stroke-width="1.2"/><polyline points="403.5,888.2 415,878.75 420,874.7" fill="none" stroke="#1a1a1a" stroke-width="5" stroke-linecap="round" stroke-linejoin="round" stroke-dasharray="7.5 7.2" stroke-dashoffset="0"/>
<polyline points="762.8,777.3 700,817.5 655,846.4" fill="none" stroke="#1a1a1a" stroke-width="1.2"/><polyline points="762.8,777.3 700,817.5 655,846.4" fill="none" stroke="#1a1a1a" stroke-width="5" stroke-linecap="round" stroke-linejoin="round" stroke-dasharray="7.5 7.2" stroke-dashoffset="0"/>
<polyline points="622.75,870 569.4,904.1" fill="none" stroke="#1a1a1a" stroke-width="1.2"/><polyline points="622.75,870 569.4,904.1" fill="none" stroke="#1a1a1a" stroke-width="5" stroke-linecap="round" stroke-linejoin="round" stroke-dasharray="7.5 7.2" stroke-dashoffset="0"/>
<polyline points="619.8,983 612.5,973.75 589.5,933 569.4,904.1 535.25,852.5" fill="none" stroke="#1a1a1a" stroke-width="1.2"/><polyline points="619.8,983 612.5,973.75 589.5,933 569.4,904.1 535.25,852.5" fill="none" stroke="#1a1a1a" stroke-width="5" stroke-linecap="round" stroke-linejoin="round" stroke-dasharray="7.5 7.2" stroke-dashoffset="0"/>
<circle cx="522.85" cy="633.1" r="70" fill="#fff" stroke="#000" stroke-width="6"/><text x="522.85" y="655.654" font-size="63" font-weight="bold" text-anchor="middle" fill="#000" stroke="#000" stroke-width="1.134" stroke-linejoin="round" textLength="108" lengthAdjust="spacingAndGlyphs">D6a</text>
<circle cx="662.5" cy="764.75" r="42.5" fill="#fff" stroke="#000" stroke-width="5"/><text x="662.5" y="777.996" font-size="37" font-weight="bold" text-anchor="middle" fill="#000" stroke="#000" stroke-width="0.666" stroke-linejoin="round" textLength="70.5" lengthAdjust="spacingAndGlyphs">D6c</text>
<circle cx="487.1" cy="908.75" r="42.3" fill="#fff" stroke="#000" stroke-width="5"/><text x="487.1" y="921.996" font-size="37" font-weight="bold" text-anchor="middle" fill="#000" stroke="#000" stroke-width="0.666" stroke-linejoin="round" textLength="70.5" lengthAdjust="spacingAndGlyphs">D6b</text>
<circle cx="688.4" cy="907.5" r="42.3" fill="#fff" stroke="#000" stroke-width="5"/><text x="688.4" y="920.746" font-size="37" font-weight="bold" text-anchor="middle" fill="#000" stroke="#000" stroke-width="0.666" stroke-linejoin="round" textLength="72" lengthAdjust="spacingAndGlyphs">D6d</text>
<rect x="709.1" y="603.9" width="40.5" height="40" fill="#fff" stroke="#000" stroke-width="2.1"/><text x="728.75" y="635.356" font-size="32" font-weight="bold" text-anchor="middle" fill="#000">3</text>
<rect x="501.5" y="812.2" width="40.4" height="39.4" fill="#fff" stroke="#000" stroke-width="2.1"/><text x="521.1" y="843.356" font-size="32" font-weight="bold" text-anchor="middle" fill="#000">2</text>
<rect x="415.2" y="838" width="39.9" height="39.6" fill="#fff" stroke="#000" stroke-width="2.1"/><text x="434.55" y="869.256" font-size="32" font-weight="bold" text-anchor="middle" fill="#000">3</text>
<rect x="614" y="828.9" width="40.6" height="40.2" fill="#fff" stroke="#000" stroke-width="2.1"/><text x="633.7" y="860.456" font-size="32" font-weight="bold" text-anchor="middle" fill="#000">1</text>
<rect x="589.7" y="934.2" width="40.9" height="39.7" fill="#fff" stroke="#000" stroke-width="2.1"/><text x="609.55" y="965.506" font-size="32" font-weight="bold" text-anchor="middle" fill="#000">2</text></svg>
</body></html>
